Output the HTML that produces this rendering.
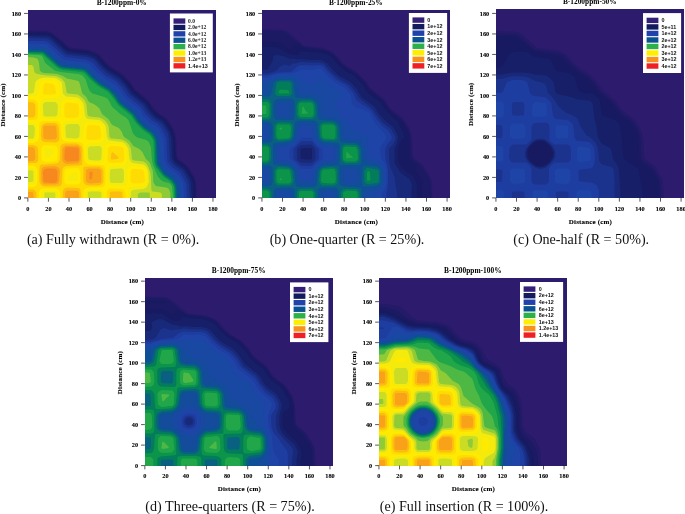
<!DOCTYPE html>
<html><head><meta charset="utf-8"><title>Flux maps</title>
<style>
html,body{margin:0;padding:0;background:#fff;}
body{width:685px;height:514px;overflow:hidden;position:relative;font-family:"Liberation Serif",serif;}
svg{position:absolute;left:0;top:0;}
.tl text{font:bold 6.3px "Liberation Serif",serif;fill:#000;stroke:#000;stroke-width:0.1px;}
.ti{font:bold 7.4px "Liberation Serif",serif;fill:#000;}
.al{font:bold 7px "Liberation Serif",serif;fill:#000;letter-spacing:0.17px;stroke:#000;stroke-width:0.1px;}
.ls{font:bold 5.6px "Liberation Serif",serif;fill:#222;}
.lg{font:bold 5.4px "Liberation Sans",sans-serif;fill:#111;}
.cap{position:absolute;font:14.1px "Liberation Serif",serif;color:#111;white-space:nowrap;transform:translateX(-50%);line-height:16px;}
</style></head><body>
<svg width="685" height="514" viewBox="0 0 685 514">
<defs>
<clipPath id="cpa"><rect x="0.15" y="0.10" width="188" height="188"/></clipPath>
<clipPath id="cpb"><rect x="0.05" y="0.10" width="188" height="188"/></clipPath>
<clipPath id="cpc"><rect x="0.05" y="0.00" width="188" height="189"/></clipPath>
<clipPath id="cpd"><rect x="0.15" y="0.40" width="188" height="188"/></clipPath>
<clipPath id="cpe"><rect x="0.05" y="0.40" width="188" height="188"/></clipPath>
</defs>
<g transform="translate(27.85 9.90)">
<g clip-path="url(#cpa)">
<rect x="-3" y="-3" width="194.30" height="194.00" fill="#2d1b6e"/>
<path fill="#241b68" d="M-2 190l171 0 -0.5-17 -1.5-5 -5-9.5 -3.5-3.5 -6-4.5 -2-1.5 -0.5-1.5 -1-2.5 -0.5-16 -1.5-7 -2.5-5 -4-7 -3.5-3 -5.5-3.5 -3.5-3.5 -3-3 -3.5-5.5 -3-3.5 -11-8.5 -4.5-7 -8-8 -2-2 -9-5 -6-5 -6.5-8 -3-2 -8-3 -17.5-2 -1.5-0.5 -1-0.5 -8-7.5 -8.5-6.5 -5-1.5 -21-0.5z"/>
<path fill="#1d1a64" d="M-2 190l170 0 -0.5-17 -0.5-2.5 -1-2.5 -6-10 -2.5-3 -7-4.5 -2-3 -0.5-2.5 -0.5-14.5 -1-5.5 -1.5-5.5 -5-8 -3-3 -7.5-5 -3-3 -1.5-1.5 -5-7.5 -13-11 -5.5-8 -7.5-7.5 -11.5-7.5 -4.5-4 -6.5-7.5 -3-2 -8-3 -19-2.5 -1.5-1 -14.5-12.5 -2.5-2 -4-1 -21-0.5z"/>
<path fill="#171a60" d="M-2 190l169 0 -0.5-17 -1-4 -6.5-10.5 -1.5-2 -8-5.5 -2-3.5 -1-17 -1-5.5 -1.5-5 -5.5-8.5 -2.5-2.5 -7-4.5 -2.5-2.5 -2.5-2.5 -3-5.5 -2.5-2.5 -12-10 -5.5-8 -7.5-7.5 -11.5-7 -5.5-5 -6-7 -2-1.5 -5.5-2.5 -3.5-1.5 -16.5-1.5 -2.5-1 -15-13 -2.5-1.5 -4-1 -21-0.5z"/>
<path fill="#161f68" d="M-2 190l168 0 -0.5-14 -0.5-4 -1-3 -5.5-9.5 -2-2.5 -8-5.5 -1-1 -1.5-3 -0.5-18.5 -1.5-5.5 -1.5-3.5 -5.5-8.5 -1-1.5 -7-4 -4-4 -2.5-2.5 -4-7 -13.5-10.5 -1-1.5 -4.5-6.5 -6.5-7 -1.5-1.5 -9.5-5.5 -5.5-4 -6.5-8 -2.5-2.5 -7-2.5 -17.5-2 -2.5-0.5 -1.5-0.5 -8-8 -8.5-6.5 -5-1 -19.5-0.5z"/>
<path fill="#18297a" d="M-2 190l166 0 -1-17 -1-4 -5.5-9 -2-1.5 -7.5-5.5 -2.5-4 -0.5-2.5 -0.5-16 -0.5-3 -1.5-5.5 -5-8 -2-2.5 -6.5-4 -4.5-4 -2-3 -4.5-6.5 -13.5-10.5 -5.5-8.5 -6.5-7 -11-6.5 -5-4.5 -7-7.5 -2.5-2 -7-2.5 -17.5-2 -2.5-1 -15-13 -2.5-2 -1.5-0.5 -2.5 0 -19.5-0.5z"/>
<path fill="#1c338e" d="M-2 190l164 0 -1-15.5 -1-4 -5.5-9.5 -8-5.5 -2-2.5 -2-2.5 -0.5-3 -1-18.5 -1-5.5 -5.5-9 -2-1.5 -7.5-5 -3-3.5 -1.5-1 -5-8 -13.5-11 -5.5-8 -6.5-6.5 -10.5-6.5 -6.5-6 -5.5-6.5 -1.5-1.5 -3-1 -4-1.5 -18.5-2 -3-1 -14.5-13.5 -3-1.5 -2.5-0.5 -19.5-0.5z"/>
<path fill="#1e3da0" d="M-2 190l161 0 -0.5-15.5 -1-2.5 -4.5-8 -1-1.5 -8-5.5 -3-4 -1.5-2.5 -1-21.5 -2-5.5 -4-6.5 -2-2.5 -7-4.5 -5.5-5.5 -5-7.5 -13.5-11 -5.5-8 -5-5.5 -1.5-1.5 -9.5-5 -6.5-6 -5.5-6.5 -3-2 -5-2 -20.5-2.5 -2-1.5 -14-12.5 -2.5-1.5 -3-0.5 -18 0z"/>
<path fill="#1e44a7" d="M-2 190l158.5 0 -1-15.5 0-1.5 -1.5-2.5 -3.5-5.5 -9-6.5 -3-4 -1.5-3 -0.5-2.5 -0.5-14.5 -0.5-5.5 -1.5-4 -3-5.5 -2-2.5 -7-4 -5-5.5 -1.5-1.5 -3-5.5 -2-2 -12.5-10 -1-1 -4.5-7 -5-5.5 -3-2 -5.5-3 -3.5-3 -6.5-5 -6-7 -2.5-1.5 -5.5-1.5 -18.5-2 -2.5-1.5 -14-13 -2.5-1.5 -19.5-0.5z"/>
<path fill="#1848a1" d="M-2 190l156.5 0 -1-14 -0.5-3 -4-6.5 -9-6.5 -5-7 -0.5-2.5 -1-20 -1-4.5 -3.5-5.5 -1-1.5 -8.5-5.5 -5-6 -4-6 -1.5-1.5 -12.5-10 -1-1.5 -4.5-6.5 -5-5.5 -1.5-1.5 -8-4.5 -2.5-2 -6.5-5.5 -5.5-6.5 -1.5-1 -4-1.5 -19-2 -2.5-0.5 -17.5-15 -2.5-0.5 -17-0.5z"/>
<path fill="#144c9b" d="M-2 190l154.5 0 -0.5-14 -1-3 -3.5-5 -9-7 -5.5-8 -0.5-2.5 -1-20 -0.5-3 -3-6 -1.5-1.5 -7-4.5 -5-5 -2-1.5 -3-5.5 -2-2.5 -12.5-9.5 -1-1.5 -4-6.5 -5.5-5.5 -2.5-2 -8-5 -7.5-6.5 -5-5.5 -2.5-2 -4-1 -20-2.5 -2-1 -14-13 -3-1.5 -18-0.5z"/>
<path fill="#0e5095" d="M-2 190l153 0 -0.5-12.5 -0.5-3 -3-5.5 -1.5-1.5 -7.5-5 -6-8.5 -1-2.5 -1-21 -1-3.5 -2.5-4.5 -1.5-1.5 -6.5-4.5 -6.5-6.5 -4.5-6.5 -1-1.5 -13.5-10.5 -5-8 -4.5-5 -11-6.5 -7-6 -6-7 -1.5-1 -3-0.5 -18.5-2.5 -3-0.5 -1.5-1 -8.5-8 -7.5-6 -2.5-0.5 -15.5 0z"/>
<path fill="#096080" d="M-2 190l151.5 0 -0.5-12.5 -0.5-3 -2.5-4 -2-2 -7-4.5 -6.5-9.5 -0.5-3 -1-21 -1-3 -2.5-4 -2-2 -5.5-3.5 -6.5-6 -1.5-2 -4-6.5 -13.5-11 -5-8 -4-4 -3-2.5 -5.5-3 -3.5-2.5 -7-6 -5.5-6 -1-1 -4-1 -19-2 -1.5-0.5 -2.5-1.5 -13.5-12.5 -2.5-1.5 -17-0.5z"/>
<path fill="#037c5c" d="M-2 190l150.5 0 -0.5-12.5 -1-3 -2.5-4 -8.5-6.5 -5-7 -1.5-2.5 -0.5-3 -1-20 -0.5-2.5 -2.5-4.5 -1.5-1.5 -6.5-4.5 -6-5.5 -2-3 -4-6 -13.5-11 -5.5-8 -4-4.5 -10.5-6.5 -8-7 -4.5-5 -2.5-2 -2.5-0.5 -19-2 -2.5-1 -2.5-1.5 -13.5-12 -1.5-1 -17-0.5z"/>
<path fill="#0b944a" d="M-2 190l149.5 0 -0.5-12.5 -1-3 -3-4 -6-4 -2.5-2.5 -5-7 -1.5-2.5 -0.5-3 -0.5-20 -1-2.5 -1-2 -2.5-3.5 -6-4 -6-6 -2-2 -4.5-7 -13-10.5 -5.5-8 -3.5-4 -1.5-1.5 -9.5-5.5 -7.5-6.5 -5.5-6 -1.5-1 -2.5-1 -19-2 -2.5-0.5 -3-2 -8.5-7.5 -6-5.5 -3-0.5 -14 0z"/>
<path fill="#21a64a" d="M-2 190l148.5 0 -0.5-12.5 -1-3 -2.5-3 -6.5-4.5 -2-2 -6-8 -1-2.5 -0.5-3 -1-20 -0.5-2 -1.5-2.5 -1.5-2 -6.5-4.5 -6.5-6.5 -2-2.5 -3.5-5.5 -13.5-11 -1.5-2.5 -4-5.5 -3-3.5 -2-2 -9.5-5.5 -8-7 -5.5-6 -3-1 -18.5-2 -4-1.5 -3-2 -12-11 -1-1 -1.5-0.5 -15.5-0.5z"/>
<path fill="#4db944" d="M-2 190l147.5 0 -0.5-6 -1-8 -1.5-2 -1.5-1 -4.5-1 -3.5-2 -3-3.5 -2-4.5 -3-7.5 -1-5.5 -1-12 -1-2.5 -1-2.5 -2.5-2 -9-2.5 -2-1.5 -1-1 -1.5-2 -3-9 -1.5-4 -2.5-2.5 -5-3 -8.5-7.5 -1-1.5 -2-4 -2-3 -3-1.5 -12-3.5 -1.5-1.5 -1-1 -1.5-3 -2.5-8 -2-3 -2-2 -4-1 -17.5-2 -5.5-1.5 -2-1.5 -7.5-6 -1-2 -1-2.5 -0.5-1.5 -1.5-1.5 -4-0.5 -11.5-0.5z"/>
<path fill="#8fcb36" d="M-2 190l144.5 0 0-7.5 -1-2.5 -1-1.5 -2-1 -10.5-1.5 -1.5-2 -1-2 -0.5-11 -1-2.5 -2-5.5 -1-1.5 -3-2.5 -2.5-5 -1-2 -2.5-2.5 -1.5-1 -4-2 -1.5-1 -1.5-2.5 -2-2.5 -4.5-3 -1.5-1.5 -1.5-4 -2.5-3.5 -2.5-1.5 -4.5-2 -1-1 -3-5 -2.5-2 -3.5-2.5 -3-6 -2-2 -1.5-1 -2-1.5 -4-1.5 -1.5-1.5 -2.5-4.5 -3.5-3 -0.5-1.5 -2-8 -0.5-1.5 -1-1.5 -2-0.5 -9.5-2 -4-2.5 -5.5-2 -4-0.5 -9.5-0.5 -2.5-1 -1.5-1.5 -1-8.5 -1-2.5 -1-1 -3.5-1 -7.5-0.5z"/>
<path fill="#cadc23" d="M-2 190l112 0 0-6 2.5-1.5 4.5 0 4.5 0 0.5 1.5 0 6 12 0 0-6 -1.5-1.5 -7.5-1 -0.5 0 -1-1.5 -0.5-13.5 -0.5-4 -2-5.5 -2-3.5 -1.5-1 -1.5-1 -9-1 -1.5-0.5 -1-1 0-1.5 -1-9 -2-4 -3-3 -4-2 -9.5-1 -1 0 -1.5-1 -0.5-1.5 -0.5-8 -0.5-2.5 -1.5-2.5 -2.5-3 -2.5-1.5 -2.5-1 -9.5-1 -1.5-0.5 -1-1.5 0-1 -1-9.5 -2-4 -2.5-2.5 -4-3 -9.5-1 -1.5-0.5 -2-10.5 -2-2.5 -1.5-1.5 -4-2 -2.5-0.5 -12-1 -5.5-1 -2-1 -1-1 -1-5.5 -1.5-1.5 -6 0z"/>
<path fill="#f4ea0b" d="M-2 190l18.5 0 0-6 0.5-1.5 2 0 8 0 0.5 1.5 0 6 32.5 0 0-6 0-1.5 0.5-0.5 1.5-0.5 8 0 1.5 0 2 1 0 7.5 29.5 0 0-7.5 0.5-1.5 1.5-1 10.5-1 3-1.5 1-1.5 1.5-4 -0.5-9.5 -0.5-2.5 -1.5-3 -1.5-1.5 -1.5-1 -10.5-1.5 -2-1.5 -1.5-2.5 -1-10.5 -2-3 -1.5-2 -3-1.5 -12-1.5 -2-1.5 -1-3 -1-9 -0.5-1.5 -2-2.5 -3-2.5 -1-0.5 -11-1 -1.5-0.5 -1-1 -1-3 -1-9 -1-3 -2.5-3 -2.5-2 -11-1 -1.5-0.5 -1-1 -1.5-1.5 -1-11 -1.5-1.5 -3-2 -2.5-1 -9.5-0.5 -4 0.5 -2.5 1 -1.5 1 -1.5 1 -0.5 1.5 -1.5 9.5 -0.5 1 -1.5 0.5 -6 0 0 31.5 7.5 0 1 2 0.5 1 -0.5 8 -0.5 1.5 -0.5 1 -1.5 0 -6 0 0 32 6 0 1.5 0.5 0 8 0 2 -1.5 1 -6 0zM17.5 106.5l-1.5-0.5 -0.5-1.5 0-1 -0.5-8 0.5-1.5 0.5-1 1.5-1 1.5 0 8 0 1 0.5 1.5 1.5 0.5 1.5 -0.5 9 -1 1.5 -1.5 0.5zM39 128l-0.5-0.5 -0.5-1.5 0-1 -0.5-8 0.5-1.5 1-1 2.5-0.5 8.5 0 1 1 1 2 0 1 -0.5 8 -0.5 1.5 -1 0.5 -1.5 0.5zM67.5 150.5l-5.5-0.5 -1.5-1 -0.5-10.5 0.5-1 1.5-1 9.5-0.5 1 0.5 1.5 2 -0.5 10.5 -1 1 -1 0.5zM83.5 173l-1-1 -0.5-1.5 0-9.5 0.5-1 1-1 1 0 8.5-0.5 1 0 1.5 1 0.5 1.5 0 1.5 0 8 -0.5 1.5 -1.5 1 -1 0z"/>
<path fill="#ffea00" d="M-2 190l15.5 0 0-7.5 1-1 1.5-1 3-0.5 8 0.5 2 1 1 1 0.5 7.5 27 0 0-7.5 1.5-2 1.5-1 1.5 0 8 0 2.5 0 1.5 0.5 1.5 1.5 0.5 1 0.5 7.5 23.5 0 0.5-8.5 0.5-3 1-1 1.5-0.5 12-1 1.5-1 1.5-2 0.5-2.5 0-5.5 -0.5-4 -1.5-2.5 -1.5-1.5 -1 0 -9.5-1 -4 0.5 -1 0.5 -0.5 1.5 0 13.5 -0.5 1 -1 2 -2.5 1 -4 0 -8-0.5 -2-1 -1-1.5 -0.5-2.5 0-9.5 0.5-2.5 1.5-2 1.5-0.5 12-0.5 1.5-0.5 1-0.5 0.5-1.5 0.5-4 -1-10.5 -2.5-3 -1.5-1 -0.5 0 -10-1 -4 0.5 -1.5 1 -1 2 -0.5 12 -1 2 -1.5 1 -2.5 0.5 -9.5 0 -2-1 -1-1 -0.5-1.5 -0.5-10.5 0.5-3 1-1 1-1 12-1 1.5 0 1.5-1 0.5-2.5 0-3 -0.5-8 0-1 -1-1.5 -2-2 -1-0.5 -9.5-1 -4 0.5 -1.5 1.5 -0.5 1.5 -1 10.5 -0.5 1.5 -1 1.5 -2.5 1 -2.5 0 -9.5 0 -2-1 -1-1.5 -0.5-2.5 -0.5-8 0.5-3 1-1 1-1.5 1.5-0.5 11-0.5 2.5-1 0.5-0.5 0.5-1.5 0.5-3 -0.5-9 -0.5-1.5 -2-2.5 -1-1 -11-1 -2.5 0.5 -1.5 0.5 -1.5 2 -0.5 12 -0.5 1.5 -1 1.5 -2 1 -2.5 0.5 -9.5-0.5 -2.5-0.5 -1.5-1.5 -1-2 0-10.5 0.5-2.5 1-1.5 1-1 1-0.5 11-0.5 2.5-0.5 1.5-1.5 1-2.5 -1-9.5 -0.5-1.5 -1-1 -1.5-0.5 -1-0.5 -11-0.5 -2.5 1 -1.5 1.5 -1.5 11 -1 1.5 -2 1 -2 0.5 -7.5 0 0 26 7.5 0 1 0.5 1.5 1 0.5 1.5 0.5 2.5 0 8 -0.5 1.5 -0.5 1.5 -1.5 1 -1 0.5 -7.5 0 0 27.5 7.5 0 1 1 1 2 0.5 8 -0.5 3 -1 1.5 -1 1 -7.5 0zM17.5 148l-0.5-8.5 0.5-1 2.5 0 5.5 1 0.5 0 -0.5 3.5 -4.5 4.5 -2 0.5zM40.5 170.5l-0.5 0 0-1.5 0.5-2.5 5-4 3-0.5 0.5 0.5 0.5 6.5 0 1.5 -1 0.5z"/>
<path fill="#fedb03" d="M-2 190l13 0 0-7.5 1-2.5 1.5-1 4-0.5 9.5 0 2.5 0.5 1.5 1 1 1.5 0.5 1 0 7.5 23 0 0-7.5 0.5-2.5 1.5-1.5 3-1 13.5-0.5 1.5-0.5 1-1 1-2.5 0-2.5 0-9.5 -0.5-4 -1-1 -2-1 -12-0.5 -1.5-0.5 -2-1 -1-1.5 -1-2.5 -0.5-10.5 -0.5-3 -0.5-1.5 -1-1 -1.5-0.5 -2.5-0.5 -11-0.5 -2.5-0.5 -1.5-1 -1.5-2.5 -0.5-12 -0.5-1.5 -1.5-2 -1.5-0.5 -2.5-0.5 -11 0 -2.5 0.5 -1.5 1 -0.5 1.5 -0.5 13.5 -1 3 -0.5 1 -1.5 0.5 -2.5 1 -7.5 0 0 22.5 7.5 0 1 0.5 1.5 1 1 1.5 0.5 2.5 0 9.5 -0.5 4 -1 1.5 -2.5 1 -7.5 0zM17.5 152l-1.5-0.5 -1-0.5 -1.5-2 0-9.5 0-1 0.5-1.5 1.5-1.5 2-0.5 9.5 0.5 1 0.5 1.5 1.5 0.5 2 -0.5 9.5 -0.5 1.5 -2 1zM40.5 174.5l-1.5 0 -1.5-0.5 -1-2 0-9.5 0.5-2.5 2-1.5 1.5 0 8-0.5 1.5 0 1 1 1 1 0.5 2.5 0 8 0 1.5 -0.5 1 -1 1 -1 0.5zM79 190l18.5 0 0-7.5 -0.5-1 -1-1.5 -2-1 -10.5-0.5 -3 0.5 -1 2 -0.5 1.5zM104.5 173l2 0.5 8-0.5 1-0.5 1-0.5 0.5-1.5 -0.5-5.5 0-2.5 -1-2 -1-1 -8-0.5 -1.5 0 -1.5 1 -0.5 1 0 1.5 -0.5 8 0.5 1.5zM80.5 151.5l1.5 1 1.5 0.5 9.5-0.5 2-1 1-1 0.5-1.5 -0.5-9.5 -0.5-1 -1.5-1.5 -1-0.5 -9.5-0.5 -2 1 -1.5 1.5 0 2.5 -0.5 8 0.5 1.5zM59 129l1.5 1 1.5 0 9.5-0.5 1-1 0.5-1 0.5-1.5 -1-9 -1-1 -1.5-0.5 -8-0.5 -2 0.5 -1 1.5 0 1 -0.5 8 0 1.5zM-2 109l0 1 7.5 0 2.5-0.5 1.5-1 0.5-4 0-10.5 -1.5-2.5 -2-1.5 -1-0.5 -7.5 0zM38 107.5l2.5 0.5 8-0.5 1.5-0.5 0.5-1 0.5-1.5 0-8 -0.5-1 -0.5-2 -1.5 0 -9.5-1 -2 1.5 -0.5 2.5 0 8 0 1.5zM17 84.5l8.5 0 1.5-0.5 1-0.5 0-1.5 -1-6 -1.5-1.5 -1-0.5 -5.5-1 -1.5 0 -1 1 -0.5 1 -1 8.5 1 1z"/>
<path fill="#fcbe0e" d="M-2 190l10.5 0 0-7.5 -0.5-1 -1.5-1.5 -1-0.5 -7.5 0zM35 190l18 0 0-7.5 -0.5-2.5 -1-1.5 -1.5-0.5 -11-0.5 -2.5 1 -1 1.5 -0.5 1.5zM82 190l13 0 -0.5-7.5 -0.5-0.5 -1-0.5 -9.5 0 -1.5 1zM14.5 176l3 0.5 9.5 0 2.5 0 3-0.5 1-1.5 0.5-1.5 0.5-13 0.5-1.5 1-1.5 3-1 12-0.5 3-0.5 0.5-2 0-2.5 0-11 -0.5-2.5 -1.5-1.5 -1.5-1 -2.5-1 -9.5 0 -2.5 0 -2.5 1 -1 1 -0.5 1.5 -0.5 12 -1 3 -1 1 -2 0.5 -13 1 -1.5 0 -1.5 1.5 -0.5 4 0 12 1.5 2.5zM57.5 174.5l3 1 9.5 0 2.5-0.5 1.5-1 1.5-2 0-1.5 0-9.5 0-1 -1-1.5 -2-1.5 -1-0.5 -11 0 -2.5 0 -2 0.5 -0.5 1.5 0 1.5 0 10.5 0.5 2.5zM-2 153l8.5 0 1.5 0 2-1.5 0.5-2.5 -0.5-10.5 -0.5-1.5 -1.5-1 -2.5-1 -7.5 0zM83 149l1.5 0.5 5-0.5 1.5-1.5 -6.5-5.5 -1 1.5zM15.5 131.5l2 0.5 9.5 0.5 1 0 2-1 1-1 0.5-3 -0.5-9.5 -0.5-2.5 -1.5-1.5 -2-1 -8 0 -3 0.5 -1 1 -1 1 -0.5 1.5 -0.5 9 0.5 3 0.5 1.5zM-2 106l0 1.5 7.5 0 1.5-1.5 0.5-1.5 0-1 0-8 -0.5-1.5 -1.5-1.5 -7.5-0.5z"/>
<path fill="#f9a119" d="M-2 190l8 0 -0.5-7.5 -1.5-0.5 -6 0zM37 190l14 0 0-7.5 -1-1.5 -1.5-0.5 -9.5 0 -1.5 2zM17.5 174.5l9.5 0 2.5-0.5 1.5-1.5 0.5-2 0.5-9.5 -0.5-2.5 -1.5-1.5 -2-0.5 -1-0.5 -9.5 0.5 -2 0.5 -1.5 1.5 -0.5 2.5 0 9.5 0.5 1.5 0.5 1 1.5 1.5zM60.5 173l1.5 0.5 8.5-0.5 2-0.5 0.5-0.5 0.5-1.5 0-8 0-1.5 -1-1.5 -1-0.5 -1.5-0.5 -8 0 -1.5 0 -2 1.5 -0.5 1 0 1.5 0 8 0.5 1.5zM36.5 153l2.5 1 9.5-0.5 1.5 0 1-1 1.5-2 0.5-3 -0.5-8 0-1 -1.5-2 -1-1 -1.5 0 -9.5 0 -1.5 0 -2 1.5 -0.5 1.5 -0.5 1 0 9.5 0.5 2.5zM-2 150.5l0 0.5 6 0 1.5 0 1-1 1-1 0-1.5 -0.5-8 -0.5-1.5 -1-0.5 -7.5-0.5zM16.5 129l2.5 0.5 6.5 0 1.5 0 1-1 1-1 0-1.5 -0.5-8 -0.5-1.5 -1-1 -1.5 0 -8 0 -1.5 0.5 -0.5 1 0 1 0 8 0 1.5z"/>
<path fill="#f7881f" d="M16 172l1.5 0.5 8 0.5 1.5 0 1.5-1 1-1.5 0-6.5 0-3 -0.5-1 -1-1 -1-0.5 -8 0 -1.5 0.5 -1.5 0.5 -0.5 1.5 -0.5 1.5 0.5 8zM61.5 169l0.5 0.5 1 0 1-0.5 1-6.5 -2-1 -1 0 -0.5 1zM37.5 150.5l1.5 1 1.5 0 9.5-0.5 1-2 0-1.5 0-8 -0.5-1 -0.5-1 -1.5 0 -8-0.5 -1.5 0 -1.5 1 -0.5 1.5 -0.5 8 0 1.5z"/>
</g>
<path d="M0.00 188.00 v3.8M0 188.00 h-3.8M20.57 188.00 v3.8M0 167.51 h-3.8M41.14 188.00 v3.8M0 147.01 h-3.8M61.71 188.00 v3.8M0 126.52 h-3.8M82.28 188.00 v3.8M0 106.02 h-3.8M102.85 188.00 v3.8M0 85.53 h-3.8M123.42 188.00 v3.8M0 65.04 h-3.8M143.99 188.00 v3.8M0 44.54 h-3.8M164.56 188.00 v3.8M0 24.05 h-3.8M185.13 188.00 v3.8M0 3.55 h-3.8" stroke="#111" stroke-width="0.7" fill="none"/>
<g class="tl">
<text x="0.00" y="200.80" text-anchor="middle">0</text>
<text x="-6.7" y="190.10" text-anchor="end">0</text>
<text x="20.57" y="200.80" text-anchor="middle">20</text>
<text x="-6.7" y="169.61" text-anchor="end">20</text>
<text x="41.14" y="200.80" text-anchor="middle">40</text>
<text x="-6.7" y="149.11" text-anchor="end">40</text>
<text x="61.71" y="200.80" text-anchor="middle">60</text>
<text x="-6.7" y="128.62" text-anchor="end">60</text>
<text x="82.28" y="200.80" text-anchor="middle">80</text>
<text x="-6.7" y="108.12" text-anchor="end">80</text>
<text x="102.85" y="200.80" text-anchor="middle">100</text>
<text x="-6.7" y="87.63" text-anchor="end">100</text>
<text x="123.42" y="200.80" text-anchor="middle">120</text>
<text x="-6.7" y="67.14" text-anchor="end">120</text>
<text x="143.99" y="200.80" text-anchor="middle">140</text>
<text x="-6.7" y="46.64" text-anchor="end">140</text>
<text x="164.56" y="200.80" text-anchor="middle">160</text>
<text x="-6.7" y="26.15" text-anchor="end">160</text>
<text x="185.13" y="200.80" text-anchor="middle">180</text>
<text x="-6.7" y="5.65" text-anchor="end">180</text>
</g>
<text class="ti" x="93.85" y="-4.8" text-anchor="middle">B-1200ppm-0%</text>
<text class="al" x="94.55" y="213.70" text-anchor="middle">Distance (cm)</text>
<text class="al" transform="translate(-22.6 95.00) rotate(-90)" text-anchor="middle">Distance (cm)</text>
<rect x="142.05" y="3.60" width="42.90" height="58.90" fill="#fff"/>
<rect x="145.65" y="8.50" width="11.8" height="5.30" fill="#342078"/>
<text class="ls" x="160.25" y="12.90">0.0</text>
<rect x="145.65" y="14.90" width="11.8" height="5.30" fill="#141a5e"/>
<text class="ls" x="160.25" y="19.30">2.0e+12</text>
<rect x="145.65" y="21.30" width="11.8" height="5.30" fill="#2042aa"/>
<text class="ls" x="160.25" y="25.70">4.0e+12</text>
<rect x="145.65" y="27.70" width="11.8" height="5.30" fill="#0c5292"/>
<text class="ls" x="160.25" y="32.10">6.0e+12</text>
<rect x="145.65" y="34.10" width="11.8" height="5.30" fill="#2cb04a"/>
<text class="ls" x="160.25" y="38.50">8.0e+12</text>
<rect x="145.65" y="40.50" width="11.8" height="5.30" fill="#ffee00"/>
<text class="ls" x="160.25" y="44.90">1.0e+13</text>
<rect x="145.65" y="46.90" width="11.8" height="5.30" fill="#f8921e"/>
<text class="ls" x="160.25" y="51.30">1.2e+13</text>
<rect x="145.65" y="53.30" width="11.8" height="5.30" fill="#ee2024"/>
<text class="lg" x="160.25" y="57.70">1.4e+13</text>
</g>
<g transform="translate(261.95 9.90)">
<g clip-path="url(#cpb)">
<rect x="-3" y="-3" width="194.30" height="194.00" fill="#2d1b6e"/>
<path fill="#241b68" d="M-2 190l172.5 0 -0.5-18 -1.5-4 -7-12 -3-3 -5-3.5 -2-2 -0.5-2.5 -1-17.5 -1.5-6.5 -1-3 -6-9 -3-3 -6-4 -3.5-3 -2.5-3 -3.5-6 -1.5-1.5 -12.5-10 -1.5-1.5 -3.5-6 -8.5-8.5 -10-6 -3.5-2.5 -2.5-2.5 -5-6 -3-3 -3-1.5 -6.5-3 -8-1 -8.5-0.5 -4-1 -14.5-13 -3-1.5 -2.5-1 -2.5-0.5 -21-0.5z"/>
<path fill="#1d1a64" d="M-2 190l171.5 0 -1-18 -0.5-2 -1-3 -7-10.5 -2-2 -6-4.5 -2-2.5 -0.5-2.5 -0.5-14.5 -0.5-5.5 -2-5.5 -5.5-9 -2.5-3 -8-5.5 -2.5-2.5 -6.5-9.5 -13.5-11 -5.5-8 -7-7 -3-2 -6.5-4 -2.5-1.5 -4.5-4 -7-8 -2-1.5 -2.5-1.5 -7.5-2.5 -15.5-2 -3-0.5 -5-4.5 -8.5-5.5 -3.5-3.5 -3-1.5 -2.5-0.5 -21-0.5z"/>
<path fill="#171a60" d="M-2 190l161.5 0 0-7.5 0.5-5 0-2 1.5-2 0.5-0.5 -0.5 0 -0.5-1 -1-1 -5.5-10 -0.5-1 0.5-4 -1-1.5 -3-2.5 -1.5-1.5 -1.5-3 -0.5-8 0.5-9 0-3 -1.5-5.5 -0.5-2 -5.5-9 -3-3 -7-4.5 -2.5-3 -2.5-2.5 -4-6.5 -2.5-2.5 -11-8.5 -1-1.5 -4.5-6.5 -7.5-8 -11.5-7 -5-4 -5.5-6.5 -2.5-2.5 -2.5-1.5 -5.5-2.5 -3-0.5 -17.5-2 -4-2.5 -4-2 -1.5 0 -3 5.5 -1 0.5 -1-0.5 -8-6.5 -13.5-1 -7.5 0z"/>
<path fill="#161f68" d="M-2 190l157 0 0-15.5 -1-2.5 -4-7 -9-6 -2.5-3.5 -2-4 -0.5-4 0-9 2.5-7 4-4 0-1.5 -1.5-4 -3-5 -2-5 -2-2 -5-4 -5-5.5 -4.5-6.5 -1-1.5 -3-2.5 -4-3 -6.5-5 -1-1.5 -3-5.5 -7.5-8 -3.5-2.5 -1-0.5 -7-4 -5.5-5 -6.5-7.5 -2.5-2 -7-2.5 -10.5-1 -11-0.5 -1.5 1 -1 2 -1.5 0.5 -8-1.5 -11-6 -10.5-1 -7.5 0zM44.5 145l-1-1.5 1-0.5 0.5 0.5z"/>
<path fill="#18297a" d="M-2 190l151.5 0 0-7.5 0.5-6.5 -0.5-3 -2-4 -1.5-1 -7.5-5.5 -6-9.5 0-2.5 0-11 0-1 2-4 1-4 0.5-3 -0.5-2.5 -3.5-7 -1.5-1.5 -8-6.5 -5-5.5 -4-6.5 -1-1.5 -13-9.5 -4.5-8 -6-6.5 -3-2 -8.5-4.5 -6-5.5 -6-7 -2.5-1.5 -2.5-1.5 -2.5-0.5 -9.5 0 -9.5-1 -2.5 0.5 -5.5-1 -3 0.5 -1-0.5 -5.5-2.5 -6.5-1 -3 0.5 -1 1.5 0 2.5 -0.5 1.5 -4 7 -1 1.5 -7.5 0.5zM39 149l-0.5-1.5 0-4 0-4 0.5-1 6.5-0.5 3 0 1.5 0.5 0 5 0 5.5 -1.5 0.5 -4 0z"/>
<path fill="#1c338e" d="M-2 190l137 0 0-7.5 -2-10.5 0-4 -5-12 -1-7 0-9.5 0-1 3.5-3.5 2.5-4.5 0.5-3 -1-2.5 -3.5-6 -8-6 -4.5-5.5 -5.5-8 -2-2 -11.5-9 -5-8 -5-5.5 -3-2 -5.5-3 -3.5-2.5 -6.5-5.5 -6-7 -1-1 -3-1 -2.5-0.5 -6.5 0 -11-0.5 -5.5 1.5 -2.5 0 -3 2 -1 0.5 -4-1.5 -1.5 0.5 -4 2 -3 3.5 -3.5 1.5 -5.5 1.5 -7.5 0zM39 152.5l-3-2 -1-1.5 0-8 0-2.5 4-3.5 9.5-0.5 1.5 0.5 3 3.5 0.5 1 0 9.5 -3.5 3.5 -3 0.5z"/>
<path fill="#1e3da0" d="M-2 190l126.5 0 0-7.5 1-4 0.5-5.5 0-12 -0.5-5 -2-7 -0.5-9.5 0.5-1 1.5-3.5 1.5-2 2.5-3 1-2.5 -0.5-1.5 -3-5 -6.5-5.5 -5.5-6.5 -4.5-7 -1-1.5 -3-2.5 -6.5-4 -4-3 -1.5-1.5 -2.5-6 -1.5-2 -4-4.5 -2-2 -7.5-4 -2.5-1.5 -6.5-6 -5.5-6.5 -1.5-1 -4-1 -6.5 0.5 -11-0.5 -3.5 1.5 -4.5 4 -2.5 1.5 -12.5 0.5 -10.5 3 -7.5 0zM40.5 156l-1.5-0.5 -7.5-6.5 0-1.5 0-6.5 0-1.5 0.5-1 3-3 4-4 1.5-0.5 8 0 1.5 0.5 3.5 4 3 3 0.5 1 0 1.5 0 6.5 0 1.5 -7 6.5 -1.5 0.5z"/>
<path fill="#1e44a7" d="M-2 190l122 0 0-7.5 3-4 1.5-5.5 0-12 -0.5-2.5 -1-4 -1.5-3 -2.5-2.5 -1-10.5 2-4 3-4 1-1.5 0.5-1.5 -1-2.5 -1-2 -6.5-6 -5-7 -2.5-5.5 -2-2.5 -3-1.5 -2.5-1.5 -7-1.5 -2.5-2 -1-1.5 -0.5-1 -0.5-4.5 -0.5-3 -1.5-2 -3.5-4.5 -2-1.5 -9.5-5.5 -6.5-5.5 -5.5-6.5 -1.5-1 -2.5-0.5 -6.5 1.5 -11-0.5 -4 2.5 -3 1 -4 0.5 -12 0.5 -5 1.5 -5.5 2.5 -7.5 0zM39 159l-5.5-6 -5.5-4 -0.5-1.5 0-8 1-1 4-3 2.5-2.5 4-5 1.5-0.5 8 0 1.5 0.5 2 3.5 2.5 3 5.5 4 0.5 1 0.5 8 -0.5 1.5 -6.5 5 -4 4.5 -1.5 0.5 -8 0z"/>
<path fill="#1848a1" d="M-2 190l115.5 0 0-6 1.5-1.5 2-1 1.5-1 2.5-3.5 1.5-4 0.5-2.5 0-9.5 -0.5-2.5 -2-4 -1-1.5 -2.5-2 -1.5-1 -5.5-1 -2-1.5 -1.5-4 -0.5-2.5 -0.5-2.5 0-9.5 -0.5-2.5 -1.5-1.5 -2.5-1.5 -7-2.5 -4-4 -5.5-3.5 -1-2 -2.5-4 -3-3 -1-1 -3.5-9.5 0.5-2 1.5-2 2.5-2.5 2.5-1 0.5-0.5 -0.5-1.5 -1-1.5 -8.5-5 -13-11 -1.5 0 -2.5 5 -2.5 2 -1.5 1 -9.5-3.5 -1.5-1.5 -1.5-2.5 -1-1 -2.5-0.5 -3-0.5 -4-0.5 -11 0.5 -5 2 -5.5 2.5 -7.5 0zM40.5 169.5l-1.5-1.5 -1-5.5 -0.5-2.5 -2-3 -3-2.5 -4.5-3 -1-0.5 -8-1 -2.5-1 0-1.5 0-8 1-1.5 9.5-1 1-0.5 5-3.5 2-2.5 2-3 1.5-9.5 0.5-1.5 9.5 0 1.5 0.5 1.5 10.5 1.5 3 2.5 2.5 2.5 2 2.5 1.5 11 2 0.5 1 0 8 -0.5 1.5 0 0.5 -11 1.5 -2.5 2 -3 2 -4 5 -0.5 1 -0.5 6 -1.5 2.5z"/>
<path fill="#144c9b" d="M-2 190l18 0 0-7.5 1.5-0.5 8 0 1.5 0 1 0.5 0.5 7.5 31.5 0 0.5-7.5 1.5-0.5 1 0 7 0 1.5 0 0.5 0.5 0.5 1.5 0 6 31.5 0 0-6 0-1.5 1-1 1.5-0.5 9-1 2-1.5 2-2.5 1.5-3 0.5-2.5 0-8 0-2.5 -2.5-4 -2.5-3 -2-0.5 -8-1 -1.5-0.5 -0.5-0.5 -1-1.5 -0.5-10.5 -0.5-3 -1-2.5 -2-2 -4-1.5 -11-1 -1-0.5 -1-0.5 -0.5-1.5 -1-10.5 -1.5-4 -1.5-2 -2.5-1.5 -3-1 -9.5-1 -1-0.5 -1.5-0.5 -1-12.5 -0.5-2.5 -1.5-2.5 -2.5-1.5 -2.5-1 -12-0.5 -1.5-0.5 -1-0.5 -1.5-11 -1.5-2.5 -2.5-2 -3-1 -2.5 0 -11 0 -5 2 -7 4 -6 0 0 43 6 0 1.5 0 0.5 1 0 1 0 7 0 1 0 1.5 -0.5 0.5 -7.5 0 0 31.5 6 0 1.5 0.5 0.5 1 0 1.5 0 8 -0.5 1.5 -7.5 0zM37.5 172l-0.5-1.5 -1-9.5 -1-1.5 -2.5-3 -3-2.5 -2.5-1.5 -9.5-1 -1.5 0 -1-1 -0.5-1.5 0-1.5 0-9 1.5-2 1.5-0.5 9.5-1 1-0.5 4-3 3-4 1.5-10.5 1-2 1.5-0.5 1.5-0.5 9.5 0.5 1 1 1 1.5 1 10.5 3.5 4 4 3.5 11 1 1 1 1.5 1.5 0 10.5 -0.5 1.5 -2 1 -11 1.5 -2.5 2 -2.5 2 -2.5 3 -0.5 1 -1 9.5 -0.5 1.5 -1 1 -9.5 0 -1.5 0zM82 172l-0.5-1.5 0-8 0-1.5 1-1 1-1 1 0 7 0 2.5 0.5 1 0.5 0.5 1 0.5 1.5 -0.5 8 -0.5 1.5 -1 0.5 -2.5 0.5 -8 0zM16 105l0-9.5 1-1.5 2-0.5 6.5 0 2 0.5 1 1.5 -0.5 9 -1 1.5 -1.5 0 -8 0z"/>
<path fill="#0e5095" d="M-2 190l15.5 0 0.5-7.5 1-1.5 1-1 1.5-0.5 8 0 2.5 0.5 2 1.5 0.5 1 0 7.5 27.5 0 0-7.5 0.5-1 2-1.5 2.5-0.5 8.5 0 1 0.5 1.5 1.5 0.5 1 0 7.5 27.5 0 0-7.5 0.5-1 1-1.5 1.5-1 10.5-1.5 1.5-1 1.5-2 1.5-2.5 0-1.5 0-8 -0.5-2.5 -1.5-3 -1-1.5 -1.5-0.5 -10.5-1.5 -1.5-1 -1-1 -1-2.5 -0.5-10.5 -1.5-3.5 -2-2 -3.5-2 -10.5-0.5 -1.5-0.5 -1-1 -1-1.5 0-1.5 -0.5-9 -1-3 -2-2.5 -2.5-2 -2.5-0.5 -9.5-1 -1.5 0 -1.5-1 -1-2.5 -0.5-10.5 -1-2.5 -1.5-1.5 -2.5-2 -2.5-1 -11-0.5 -1.5-0.5 -1-1 -1.5-1.5 -1-11 -1-1.5 -2-1.5 -3-1 -1 0 -11 0 -4 2 -3 2 -2 9.5 -1 1.5 -0.5 0.5 -1.5 0 -6 0 0 29.5 7.5 0 1 1 1 1 1 2.5 0 8 0 1.5 -1 1.5 -2 1.5 -7.5 0 0 27 7.5 0 1 0.5 1.5 2 0.5 2.5 0 8 -0.5 1.5 -1 1 -1.5 1 -7.5 0.5zM39 175l-1.5-0.5 -1-1 -1-1.5 -1.5-11 -0.5-1 -2.5-3 -3-2 -1-0.5 -11-1 -1-1 -1.5-1 -1-2.5 0-10.5 0.5-1.5 1.5-1.5 1.5-1 11-1 1-0.5 3.5-2.5 2-3 1-10.5 0.5-1.5 1.5-2 2.5-1 11 0 1 0.5 1.5 1 1 1.5 1.5 12 3 3.5 2.5 2 1.5 0.5 10.5 1 1.5 1 1 1.5 1 2.5 0 9.5 -1.5 2.5 -1.5 1.5 -12.5 1.5 -4 3.5 -1.5 2 -0.5 1 -1.5 11 -0.5 1 -1.5 1.5 -1 0.5 -1.5 0zM83.5 175l-1.5-0.5 -1.5-1 -0.5-1.5 -0.5-1.5 0-9.5 0.5-1 0.5-1.5 1.5-1 1.5-0.5 8 0 2.5 0 2.5 1.5 1 1.5 0.5 2.5 0 8 -0.5 1.5 -0.5 1 -1.5 1.5 -1.5 0.5zM16 108l-1-1 -1-2.5 0-9 0-1.5 1-1.5 1-1 1.5-0.5 8 0 2.5 0.5 1.5 1 1 1.5 0 1.5 0 9 -1 2.5 -1.5 1 -1 0 -8 0z"/>
<path fill="#096080" d="M-2 190l13.5 0 0.5-8.5 0-1.5 1.5-1.5 2.5-0.5 11-0.5 4 0.5 0.5 0.5 1 1 0 3 0 7.5 23.5 0 0-7.5 0.5-3.5 1.5-1 4-0.5 10.5 0 3 1 1 1.5 0 1.5 0.5 8.5 23 0 -0.5-10 0-1.5 -1.5-1 -16-1 -2.5-0.5 -1.5-1.5 -0.5-2.5 0-16 -1-0.5 -5 0 -9.5 0.5 -1.5 0.5 -2.5 2 -2 2.5 -1 12 -1 3 -3 1 -12 0 -4-0.5 -1-0.5 -0.5-1.5 -1-13.5 -1-1 -2-2.5 -2.5-1.5 -13.5-1 -1.5 0 -0.5-0.5 -0.5-4 0-16 1.5-1.5 14.5-1.5 2.5-1 2-3 0.5-1.5 1-12 0.5-2.5 1.5-0.5 4-0.5 12 0 3.5 1 0.5 1 0.5 1.5 1 12 0 1.5 2.5 3 1.5 1 1.5 0.5 13.5 1 1 0 1 1.5 0 1 0 17.5 0 1.5 0.5 0.5 17.5 0 2.5-0.5 1.5-1.5 0-4 0-9.5 -0.5-1 -1.5-3 -2-1.5 -1.5-1 -13.5-0.5 -1-0.5 -1-0.5 -0.5-2.5 -0.5-12 -1.5-3 -2-2 -2.5-1.5 -12.5-0.5 -1 0 -1.5-1 -0.5-3 -0.5-12 -2-2.5 -2.5-2 -1-0.5 -1.5-0.5 -12-0.5 -3-0.5 -0.5-1.5 -1.5-13.5 -1.5-1.5 -2-1 -2.5 0 -8 0 -3.5 1 -2 1.5 -0.5 1.5 -2 9.5 -0.5 1 -1 1.5 -2.5 0.5 -7.5 0 0 25 8.5 0.5 1.5 0 1.5 1.5 1 3.5 0 10.5 0 3 -0.5 1 -0.5 0.5 -3 0.5 -8.5 0 0 23 8.5 0 3 0.5 1 1 0 4 0 11 -1 3 -1.5 1 -1.5 0 -8.5 0.5zM17.5 110l-2.5 0 -1.5-0.5 -1.5-2 -0.5-3 0-9 1-4 1-1.5 2.5-1 11-0.5 4 0.5 1 1 0.5 1.5 0 13 -0.5 4.5 -1 1 -1.5 0zM101 176l1 0.5 3 0 9.5-1 1-0.5 1.5-1 1.5-2 0-1.5 0-9.5 -1-2.5 -2-1.5 -10.5-1.5 -3 0.5 -1 1 -0.5 3 -0.5 12 0.5 2.5z"/>
<path fill="#037c5c" d="M-2 190l11.5 0 0-7.5 -1-2.5 -2-1 -1-0.5 -7.5 0zM34.5 190l19 0 0-7.5 -0.5-1 -1-1.5 -2-1 -9.5 0 -3 0 -1 1 -1.5 1.5 0 1zM79 190l19 0 -0.5-7.5 -0.5-1 -1-1.5 -2-1 -9.5 0 -2.5 0 -1.5 1 -1 1.5 -0.5 1zM14 174.5l2 1 3 0 8 0 1-0.5 1.5-0.5 1.5-2 0.5-2 -1-9.5 -1-1.5 -1.5-1 -2.5-1 -8-0.5 -1.5 0 -2 1.5 -1 1.5 -0.5 1 0 9.5 0.5 2.5zM59 174.5l1.5 1 1.5 0 8 0 2.5 0 1.5-1 1.5-1.5 0-2.5 0-9.5 0-1 -1-1.5 -2-1 -2.5-0.5 -8 1 -1.5 0 -1.5 1.5 -1 1.5 -1 9.5 1 2.5zM103.5 173l1.5 1 2.5 0 7-1 1 0 1-1 0.5-1.5 0-8 0-1.5 -1.5-1.5 -9-1.5 -1.5 0 -1.5 1 -1 2 0 8 0 3zM-2 153l0 0.5 7.5 0 1-0.5 1.5-1.5 0.5-1 0.5-3 0-9 -1-2 -1.5-1.5 -1-0.5 -7.5 0zM82.5 153l2 0.5 9.5-0.5 1.5-0.5 1.5-1 0.5-2.5 0-9.5 -0.5-1 -0.5-1.5 -2.5-2 -10.5-0.5 -1.5 0.5 -1 0.5 -1 1.5 -0.5 2.5 0 9.5 1 2.5zM15 130.5l2.5 0.5 9.5-1 1-0.5 1.5-1.5 1-2 0.5-9 0-1.5 -1.5-2 -1.5-1 -1 0 -9.5-0.5 -2.5 1 -1.5 1 -1 1.5 0 1.5 0 9 0 1.5 1 1.5zM63.5 130.5l8 0 1 0 1.5-0.5 1.5-1.5 0-2.5 0-9 -1-1.5 -2-2 -1-0.5 -1.5-0.5 -8 0 -2 0.5 -1.5 1 -1 3 0.5 9 0.5 1.5 2 2zM-2 109l0 0.5 7.5 0 2-0.5 1.5-1.5 0.5-3 0-10.5 -1-2.5 -2-2 -1 0 -7.5-0.5zM38.5 109l11.5 0 1-0.5 1.5-1 1-1.5 0.5-1.5 -0.5-9 -0.5-1.5 -2-2.5 -1-0.5 -1.5-0.5 -9.5 0 -2.5 1 -1 1 -1 3 0 9 0.5 1.5 0.5 1.5zM15.5 86l2 0 9.5 0 1-0.5 1.5-1 0.5-1 0-1.5 -0.5-8 -0.5-1.5 -2-1 -1.5 0 -8 0 -2.5 1 -0.5 1.5 -1.5 9.5 0.5 1z"/>
<path fill="#0b944a" d="M-2 190l9.5 0 0-6 0-1.5 -1-1 -1-1 -7.5 0zM37 190l14.5 0 0-7.5 -1.5-1.5 -11 0 -1.5 0.5 -0.5 1zM81 190l15 0 -0.5-7.5 -1.5-1.5 -1 0 -8.5-0.5 -1 0.5 -1 0.5 -1.5 1zM16 173l1.5 0.5 8 0 1.5 0 1-0.5 1-1 0.5-1.5 -1-8 -0.5-2 -1-1 -1.5 0 -8-0.5 -1.5 0.5 -0.5 0.5 -1 1 0 9.5 0.5 1.5zM61 173l9 0.5 1.5 0 1-0.5 1-1 0.5-3 -0.5-8 -1-1.5 -1-0.5 -1.5 0 -8 0.5 -1.5 0.5 -0.5 1 -0.5 1.5 -0.5 8 0.5 1.5zM105 170.5l1.5 0.5 1.5-0.5 0.5-1.5 -0.5-6.5 -1-1.5 -0.5 0 -0.5 0 -1 1.5 0 6.5zM-2 150.5l0 1 6 0 1.5-0.5 1-1 0.5-2.5 0-8 0-1 -1.5-2 -7.5 0zM82 150.5l1.5 1 1 0 8.5 0 1-0.5 1-0.5 1-1.5 0-1.5 -0.5-8 -0.5-1 -1-1.5 -1 0 -8.5-0.5 -1 0 -1.5 1 -0.5 1 -0.5 2.5 0 8zM17 129l8.5-0.5 1.5-0.5 1-0.5 0.5-1.5 0.5-8 0-1 -1-2 -1-0.5 -1.5 0 -8 0 -1.5 0 -1 1 -0.5 1.5 0 1 0 8 0.5 1.5 1 1zM60.5 127.5l1.5 1 8 0.5 1.5 0 1-0.5 1-1 0-1.5 0-8 0-1 -1-1.5 -1-0.5 -1.5-0.5 -8 0 -1.5 0.5 -1 2 0.5 9zM-2 107.5l7.5 0 1.5-1.5 0.5-2.5 0-8 0-1.5 -1-1 -1-1 -7.5 0zM37.5 106l1.5 1 1.5 0 8 0 1.5 0 1-1 0.5-1.5 0.5-1 -0.5-8 -0.5-1.5 -1-1 -1.5-0.5 -8 0 -1.5 0 -1.5 0.5 -0.5 1 -0.5 2.5 0 8zM17 83.5l2 0 8 0 0-1.5 0-1 -1.5-1 -6.5-0.5 -1.5 0.5 -1 2z"/>
<path fill="#21a64a" d="M18.5 170.5l0.5 0 1-1.5 -1-1 -1.5 1zM69 169l1 1 0-1 0-0.5zM84 147.5l0.5 1 7-1 -4-3 -3-3.5zM18 119.5l1 0.5 1.5-2 -1.5-0.5 -1.5 0.5 0 1zM-2 103.5l0 0.5 6 0 0.5-0.5 0-5.5 -0.5-2.5 -6 0zM39.5 103.5l1 0.5 6-0.5 -3-3 -2-4 -1 0z"/>
</g>
<path d="M0.00 188.00 v3.8M0 188.00 h-3.8M20.57 188.00 v3.8M0 167.51 h-3.8M41.14 188.00 v3.8M0 147.01 h-3.8M61.71 188.00 v3.8M0 126.52 h-3.8M82.28 188.00 v3.8M0 106.02 h-3.8M102.85 188.00 v3.8M0 85.53 h-3.8M123.42 188.00 v3.8M0 65.04 h-3.8M143.99 188.00 v3.8M0 44.54 h-3.8M164.56 188.00 v3.8M0 24.05 h-3.8M185.13 188.00 v3.8M0 3.55 h-3.8" stroke="#111" stroke-width="0.7" fill="none"/>
<g class="tl">
<text x="0.00" y="200.80" text-anchor="middle">0</text>
<text x="-6.7" y="190.10" text-anchor="end">0</text>
<text x="20.57" y="200.80" text-anchor="middle">20</text>
<text x="-6.7" y="169.61" text-anchor="end">20</text>
<text x="41.14" y="200.80" text-anchor="middle">40</text>
<text x="-6.7" y="149.11" text-anchor="end">40</text>
<text x="61.71" y="200.80" text-anchor="middle">60</text>
<text x="-6.7" y="128.62" text-anchor="end">60</text>
<text x="82.28" y="200.80" text-anchor="middle">80</text>
<text x="-6.7" y="108.12" text-anchor="end">80</text>
<text x="102.85" y="200.80" text-anchor="middle">100</text>
<text x="-6.7" y="87.63" text-anchor="end">100</text>
<text x="123.42" y="200.80" text-anchor="middle">120</text>
<text x="-6.7" y="67.14" text-anchor="end">120</text>
<text x="143.99" y="200.80" text-anchor="middle">140</text>
<text x="-6.7" y="46.64" text-anchor="end">140</text>
<text x="164.56" y="200.80" text-anchor="middle">160</text>
<text x="-6.7" y="26.15" text-anchor="end">160</text>
<text x="185.13" y="200.80" text-anchor="middle">180</text>
<text x="-6.7" y="5.65" text-anchor="end">180</text>
</g>
<text class="ti" x="93.85" y="-4.8" text-anchor="middle">B-1200ppm-25%</text>
<text class="al" x="94.55" y="213.70" text-anchor="middle">Distance (cm)</text>
<text class="al" transform="translate(-22.6 95.00) rotate(-90)" text-anchor="middle">Distance (cm)</text>
<rect x="146.95" y="3.10" width="38.20" height="59.90" fill="#fff"/>
<rect x="150.55" y="7.50" width="11.8" height="5.40" fill="#342078"/>
<text class="lg" x="165.35" y="12.00">0</text>
<rect x="150.55" y="14.04" width="11.8" height="5.40" fill="#141a5e"/>
<text class="lg" x="165.35" y="18.54">1e+12</text>
<rect x="150.55" y="20.58" width="11.8" height="5.40" fill="#2042aa"/>
<text class="lg" x="165.35" y="25.08">2e+12</text>
<rect x="150.55" y="27.12" width="11.8" height="5.40" fill="#0c5292"/>
<text class="lg" x="165.35" y="31.62">3e+12</text>
<rect x="150.55" y="33.66" width="11.8" height="5.40" fill="#2cb04a"/>
<text class="lg" x="165.35" y="38.16">4e+12</text>
<rect x="150.55" y="40.20" width="11.8" height="5.40" fill="#ffee00"/>
<text class="lg" x="165.35" y="44.70">5e+12</text>
<rect x="150.55" y="46.74" width="11.8" height="5.40" fill="#f8921e"/>
<text class="lg" x="165.35" y="51.24">6e+12</text>
<rect x="150.55" y="53.28" width="11.8" height="5.40" fill="#ee2024"/>
<text class="lg" x="165.35" y="57.78">7e+12</text>
</g>
<g transform="translate(495.95 9.00)">
<g clip-path="url(#cpc)">
<rect x="-3" y="-3" width="194.30" height="194.90" fill="#2d1b6e"/>
<path fill="#241b68" d="M-2 191l170 0 -1-17 0-2.5 -1.5-3 -5.5-9.5 -2.5-3 -7-5 -2-2.5 -1-17.5 -1-5.5 -2-5.5 -4.5-8 -3-3 -7.5-5 -3-3 -1.5-1.5 -5-7.5 -13-11 -6-8 -7-7.5 -11.5-7.5 -5-4 -6-7.5 -3-2 -6.5-3 -3-0.5 -17.5-2 -1.5-1 -14.5-13 -2.5-1.5 -4-1 -21-0.5z"/>
<path fill="#1d1a64" d="M-2 191l167.5 0 -1-17 -1-4 -5.5-9.5 -2-2.5 -8-5.5 -2-2.5 -0.5-3 -0.5-16 -1-4 -1.5-5.5 -5-8 -1.5-2 -8-5.5 -3.5-3.5 -7-9.5 -13-10.5 -5-7.5 -7-7.5 -12-7.5 -5-4.5 -6-7 -2-2 -8.5-3 -18.5-2.5 -1.5-0.5 -15-13 -2.5-2 -4-0.5 -19.5-0.5z"/>
<path fill="#171a60" d="M-2 191l165 0 -0.5-17 -1-3 -5.5-9.5 -1.5-1.5 -8-5.5 -1.5-2 -1.5-2.5 -1-19 -0.5-4 -1.5-4 -4.5-8 -1.5-1.5 -8-5.5 -4.5-4 -6.5-9.5 -13-11 -4.5-6.5 -7.5-8 -8.5-5 -2.5-2 -5.5-4.5 -6.5-7.5 -1.5-1.5 -7-2.5 -20-3 -17.5-14.5 -1.5-1 -2.5 0 -19.5-0.5z"/>
<path fill="#161f68" d="M-2 191l148.5 0 0-9 -2-10.5 -1.5-9.5 -0.5-1.5 -1.5-1.5 -11.5-8 -1.5-1 -0.5-1.5 -1.5-16.5 -2-14.5 -1-3 -1-1 -1.5-1.5 -2-1 -11-4.5 -1-0.5 -1.5-5.5 -1-8.5 -1.5-3 -4.5-3.5 -1-1 -10.5-1 -3-1 -1.5-3 -3-10.5 -2.5-3 -4-2 -10.5-2 -1.5-0.5 -1-1 -4.5-9 -1.5-1.5 -16-2.5 -6.5-4.5 -1.5-0.5 -2.5 0 -9.5 0.5 -2.5 1 -2.5 2 -2.5 5.5 -4.5 7 -1.5 0 -6 0zM41.5 157l-3-2 -2-1.5 -3-3 -1.5-3.5 0-4 0.5-1.5 1-3 3.5-3.5 2-1.5 2.5-1 4-0.5 4 1.5 1.5 1.5 4 4 1.5 4 0 4 -1.5 3 -2.5 3 -2.5 2 -3 1.5 -2.5 0.5z"/>
<path fill="#18297a" d="M-2 191l126.5 0 0-7.5 -1.5-23 -2-5.5 -4-5 -1.5-8.5 -1-2.5 -8-4 -1.5-1.5 -3-5.5 -1.5-10.5 -2.5-11 -1-10.5 -0.5-1.5 -1-1.5 -1.5-1 -1-0.5 -11-1 -10.5-3.5 -8.5-1.5 -2-0.5 -1-1.5 -0.5-1 -2-9.5 -1-1.5 -2.5-2.5 -4-2.5 -11-1 -6.5-1.5 -5.5-0.5 -11 0 -10.5 2 -7.5 0zM41.5 158l-4-2 -4-3.5 -2.5-4 -0.5-3 0-2.5 1.5-4 2-2.5 3-3 3.5-2 2.5-0.5 2.5 0 3 0.5 2.5 1.5 4 4 2 3.5 1 2.5 0 2.5 -0.5 3 -1.5 2.5 -2.5 3 -2.5 2 -1 1 -3 1 -2.5 0.5z"/>
<path fill="#1c338e" d="M-2 191l120.5 0 0-19.5 -0.5-8 -0.5-3 -2-2.5 -9-2.5 -1.5-1 -0.5-0.5 -1-1.5 -0.5-2.5 -1-11 -2.5-5.5 -4-4 -2.5-2 -2-0.5 -1-1.5 -5.5-8 -2.5-7 -1.5-2 -2.5-1.5 -5-2 -2.5-1 -7.5-6 -6-9 -5-5.5 -2-7 -1.5-2 -4-1.5 -5.5-1 -5.5-3 -5.5-1.5 -10.5-0.5 -12 3 -7.5 0zM41.5 159.5l-2.5-1 -5.5-4.5 -3.5-4 -1-3 0-2.5 0.5-3 1-2.5 4.5-5 2.5-2.5 3-1.5 4-0.5 4 0.5 2.5 2 3.5 3 2.5 2.5 1.5 3 1 2.5 0 2.5 -0.5 3 -1.5 2.5 -3.5 4 -3 2.5 -1 1 -4.5 1.5z"/>
<path fill="#1e3da0" d="M-2 191l18 0 0-6 0-1.5 1.5-1 8 0 1.5 0 1.5 1 0 7.5 31.5 0 0-7.5 0.5-0.5 1.5-0.5 1 0 7 0 1.5 0.5 1 0.5 0 1.5 0 6 30.5 0 0-9 -1-2.5 -1-3 -1.5-1 -2.5-1.5 -3-0.5 -10-1 -0.5 0 -0.5-1 -0.5-8 0-1.5 1-1 1-0.5 9.5-1 1.5-0.5 1.5-1 0.5-1.5 1-2.5 0.5-4 -0.5-9.5 -0.5-1.5 -0.5-1.5 -3.5-4 -1-0.5 -9.5-1 -1.5 0 -2-1 -1-1.5 -0.5-1.5 -1-10.5 -1-3 -2.5-2 -2.5-1.5 -11-1 -2-0.5 -1-1.5 -0.5-1.5 -1.5-10.5 0-1.5 -1.5-2 -4-4 -11-1.5 -2.5-0.5 -1.5-1 -1-2 -2.5-9.5 -0.5-1 -3-1.5 -2.5-0.5 -8 0 -2.5 0.5 -3.5 1.5 -1 1 -3.5 8.5 -1 1 -2 0.5 -6 0 0 32 6 0 1.5 0.5 0.5 1 0.5 1 0 7 -0.5 2.5 -0.5 1 -7.5 0 0 31.5 7.5 0 1 1.5 0 1.5 -0.5 8 -0.5 1 -1.5 0.5 -6 0zM39 175.5l-1.5-0.5 -1-1 -1-1.5 0-2.5 0-11 -1-1 -2-3 -3-1.5 -10.5 0 -3 0 -1-1 -1-1.5 -1-2.5 0.5-9.5 1.5-2 1-1 3-0.5 10.5 0 1.5-0.5 4-4 0.5-1.5 0-12 1-2 1-1 1.5-0.5 11-0.5 2 1 1 1.5 0.5 1.5 0 12 0 1.5 1.5 2 3 2 1 0.5 12.5 0 1 0.5 1.5 0.5 1 2.5 0 11 -0.5 1 -1 1.5 -2 1 -12.5 0 -1 0.5 -3 2.5 -1 1.5 -1 1 0 12.5 0 1 -1 1.5 -2 1.5zM19 106.5l-1.5 0 -1.5-1.5 0-9 0-2 1.5-0.5 1.5-0.5 8 0 1 1.5 0.5 1.5 -0.5 9.5 -1 1z"/>
<path fill="#1e44a7" d="M-2 191l10 0 0-7.5 -1-1.5 -1.5-1 -7.5 0zM36.5 191l15.5 0 0-7.5 -1-1 -1-1 -9.5 0 -1.5 0 -1.5 0.5 -1 1.5zM80.5 191l15.5 0 -0.5-7.5 -1.5-2 -1 0 -8.5-0.5 -1 0 -1.5 0.5 -1.5 2zM15.5 174l0.5 0.5 3 0.5 8-0.5 1-0.5 1-1.5 0.5-2.5 -0.5-8 -1-2 -1-0.5 -1.5 0 -8 0 -1.5 0 -1 1 -1 1.5 0 1.5 0 8 0.5 1zM60 174l2 0.5 8 0.5 1.5 0 1.5-1 1-1.5 0.5-1 0-9.5 -1-1.5 -1-0.5 -2.5-0.5 -8 0 -1.5 0.5 -0.5 0.5 -1 1.5 0 9.5 0.5 1zM-2 152.5l7.5 0 1.5-1.5 0.5-2.5 0-8 -1-2.5 -1-1 -7.5-0.5zM82.5 152.5l1 0.5 1 0 8.5-1 1-0.5 1-1.5 0-1.5 -0.5-8 -0.5-1.5 -2.5-0.5 -8-1 -1.5 0.5 -0.5 1 -0.5 1.5 0 9.5 0 1zM16 129.5l3 0.5 8-0.5 1-0.5 1-1 0.5-1 0-9.5 -1.5-2.5 -1-0.5 -9.5 0 -1.5 0 -1 1.5 -1 1.5 0 9.5 0.5 1zM60 128l0.5 1 2.5 0.5 8.5-0.5 1-1 0-4.5 -0.5-6 -0.5-0.5 -1.5-0.5 -8-0.5 -1.5 0.5 -0.5 1 -0.5 1 0 8.5zM-2 108l0 0.5 7.5 0 1-1 1-1 0.5-2.5 0-8 -0.5-1.5 -1-1 -1-1 -7.5 0zM36.5 106.5l2.5 1.5 11-0.5 0.5-1 0.5-1.5 -0.5-8 -0.5-2.5 -1.5-0.5 -8-1 -1.5 0 -2 1.5 -0.5 1.5 -0.5 8 0 1z"/>
</g>
<path d="M0.00 188.90 v3.8M0 188.90 h-3.8M20.57 188.90 v3.8M0 168.41 h-3.8M41.14 188.90 v3.8M0 147.91 h-3.8M61.71 188.90 v3.8M0 127.42 h-3.8M82.28 188.90 v3.8M0 106.92 h-3.8M102.85 188.90 v3.8M0 86.43 h-3.8M123.42 188.90 v3.8M0 65.94 h-3.8M143.99 188.90 v3.8M0 45.44 h-3.8M164.56 188.90 v3.8M0 24.95 h-3.8M185.13 188.90 v3.8M0 4.45 h-3.8" stroke="#111" stroke-width="0.7" fill="none"/>
<g class="tl">
<text x="0.00" y="201.70" text-anchor="middle">0</text>
<text x="-6.7" y="191.00" text-anchor="end">0</text>
<text x="20.57" y="201.70" text-anchor="middle">20</text>
<text x="-6.7" y="170.51" text-anchor="end">20</text>
<text x="41.14" y="201.70" text-anchor="middle">40</text>
<text x="-6.7" y="150.01" text-anchor="end">40</text>
<text x="61.71" y="201.70" text-anchor="middle">60</text>
<text x="-6.7" y="129.52" text-anchor="end">60</text>
<text x="82.28" y="201.70" text-anchor="middle">80</text>
<text x="-6.7" y="109.02" text-anchor="end">80</text>
<text x="102.85" y="201.70" text-anchor="middle">100</text>
<text x="-6.7" y="88.53" text-anchor="end">100</text>
<text x="123.42" y="201.70" text-anchor="middle">120</text>
<text x="-6.7" y="68.04" text-anchor="end">120</text>
<text x="143.99" y="201.70" text-anchor="middle">140</text>
<text x="-6.7" y="47.54" text-anchor="end">140</text>
<text x="164.56" y="201.70" text-anchor="middle">160</text>
<text x="-6.7" y="27.05" text-anchor="end">160</text>
<text x="185.13" y="201.70" text-anchor="middle">180</text>
<text x="-6.7" y="6.55" text-anchor="end">180</text>
</g>
<text class="ti" x="93.85" y="-4.8" text-anchor="middle">B-1200ppm-50%</text>
<text class="al" x="94.55" y="214.60" text-anchor="middle">Distance (cm)</text>
<text class="al" transform="translate(-22.6 95.45) rotate(-90)" text-anchor="middle">Distance (cm)</text>
<rect x="147.05" y="4.10" width="38.10" height="59.90" fill="#fff"/>
<rect x="150.65" y="8.70" width="11.8" height="5.40" fill="#342078"/>
<text class="lg" x="165.45" y="13.20">0</text>
<rect x="150.65" y="15.22" width="11.8" height="5.40" fill="#141a5e"/>
<text class="lg" x="165.45" y="19.72">5e+11</text>
<rect x="150.65" y="21.74" width="11.8" height="5.40" fill="#2042aa"/>
<text class="lg" x="165.45" y="26.24">1e+12</text>
<rect x="150.65" y="28.26" width="11.8" height="5.40" fill="#0c5292"/>
<text class="lg" x="165.45" y="32.76">2e+12</text>
<rect x="150.65" y="34.78" width="11.8" height="5.40" fill="#2cb04a"/>
<text class="lg" x="165.45" y="39.28">2e+12</text>
<rect x="150.65" y="41.30" width="11.8" height="5.40" fill="#ffee00"/>
<text class="lg" x="165.45" y="45.80">3e+12</text>
<rect x="150.65" y="47.82" width="11.8" height="5.40" fill="#f8921e"/>
<text class="lg" x="165.45" y="52.32">3e+12</text>
<rect x="150.65" y="54.34" width="11.8" height="5.40" fill="#ee2024"/>
<text class="lg" x="165.45" y="58.84">4e+12</text>
</g>
<g transform="translate(144.85 277.60)">
<g clip-path="url(#cpd)">
<rect x="-3" y="-3" width="194.30" height="194.00" fill="#2d1b6e"/>
<path fill="#241b68" d="M-2 190l173 0 -1-18 -1-4 -7-12 -3.5-3 -5-4 -2-1.5 -0.5-2.5 -1-17.5 -1.5-6.5 -1-3 -6-9 -3-3 -6-4 -3.5-3 -2.5-3 -3.5-6 -1.5-1.5 -12.5-10 -1.5-1.5 -3.5-6 -8.5-8.5 -10-6 -3.5-3 -2.5-2 -4.5-6 -3.5-3 -3-1.5 -6.5-3 -7-1 -9-0.5 -4.5-1.5 -14.5-12.5 -3-1.5 -2.5-1 -2.5-0.5 -21-0.5z"/>
<path fill="#1d1a64" d="M-2 190l171.5 0 -1-18 -0.5-2.5 -1-3 -7-10.5 -1.5-1.5 -6.5-5 -1.5-2 -0.5-2.5 -0.5-16 -1.5-5.5 -1.5-4.5 -5.5-9 -2.5-3 -7.5-5 -3-2.5 -1.5-2 -5-7.5 -13.5-11 -5.5-8 -7-7.5 -2.5-1.5 -9.5-5.5 -4.5-4 -7-8 -2-2 -2-1 -7.5-2.5 -16-2 -3-0.5 -13.5-10.5 -3-3 -3.5-2 -4-0.5 -19.5-0.5z"/>
<path fill="#171a60" d="M-2 190l169.5 0 -1-17 -1-4 -3-4.5 -1.5-2 -3-5.5 -7.5-6 -2-3.5 -0.5-4 0-14.5 -0.5-3 -1-4 -1-2.5 -5.5-9 -3-3 -6.5-4 -3-3 -2-2.5 -4.5-7 -2.5-2.5 -11-8 -1-1.5 -4.5-6.5 -7.5-8 -1.5-1.5 -8.5-4.5 -1-1 -5.5-4.5 -5.5-6.5 -2.5-2 -2-1.5 -6-2.5 -8-1.5 -11-1 -2.5-1 -3-2 -5-3 -2 0 -2.5 4.5 -1 1 -5.5-4.5 -2.5-1.5 -21-0.5zM-2 25.5l0 0.5 21-0.5 1 0 1.5-1.5 -2.5-0.5 -21-1z"/>
<path fill="#161f68" d="M-2 190l158 0 0-7.5 0.5-8 -0.5-2.5 -4.5-8 -8-7 -4.5-5.5 -1-1 -0.5-11 1-4 1.5-2 2.5-1.5 1.5-1.5 1-3 -1.5-5.5 -3.5-5.5 -2-3.5 -1-2 -2-2 -7-5 -3.5-3.5 -3.5-5.5 -2.5-3.5 -8-6 -4-3.5 -2.5-3 -3-5 -7-7.5 -3-2 -6.5-3.5 -4-3 -4.5-4.5 -6-7 -4-2 -4-2 -5-1 -10-0.5 -6.5-1 -1.5-1 -1.5 0.5 -3 3.5 -1 0.5 -5.5-0.5 -1-0.5 -3.5-2 -6-4.5 -19.5-0.5z"/>
<path fill="#18297a" d="M-2 190l154 0 -0.5-7.5 1.5-8 -1-2.5 -2.5-5.5 -8.5-7 -4-5 -1.5-3 -1-4 0-9 2-8 0.5-3 -1-3.5 -3.5-6 -2-2.5 -7-5 -4-4 -1-2 -3-5 -2.5-3 -13.5-10.5 -5-8 -5.5-6.5 -4.5-2.5 -4-2 -3.5-2.5 -5.5-5 -6-7 -3.5-2 -5.5-1 -6.5 0 -9.5-1 -4 0.5 -1.5-0.5 -4-1 -4-0.5 -8-4.5 -1.5-0.5 -2.5-0.5 -5 1.5 -2 1 -1.5 1.5 1 4 -0.5 1.5 -1.5 2.5 -1.5 0 -6 0z"/>
<path fill="#1c338e" d="M-2 190l149 0 0-7.5 1-6.5 0-3 -0.5-2.5 -2-2.5 -7-7 -5.5-6.5 -1-3 -1-4 0-9 2.5-7 0.5-4 -0.5-2.5 -3-5.5 -1.5-1.5 -6.5-5 -1.5-1 -5-6 -4-6.5 -1-1.5 -13-9.5 -1-2 -4-6.5 -5.5-6 -11.5-7 -6-5 -7-8 -2.5-1 -4-1 -8 0 -9.5-1 -4 1 -5.5 0 -2.5 1 -8-2.5 -1.5 0.5 -1.5 1 -4.5 7 -1 1.5 -3 1.5 -2 0 -7.5 0.5zM43 147.5l-1.5-0.5 -1-2 -0.5-1.5 0.5-1 1-1.5 1.5-1 1.5 0 1 0.5 1.5 0.5 1 1.5 0 1 0 1.5 -0.5 1.5 -2 1z"/>
<path fill="#1e3da0" d="M-2 190l145 0 0-14 -1-3 -6-8 -3-5 -4-4 -1-2.5 -1.5-4.5 -0.5-10.5 1.5-3 1.5-2 1.5-2 0.5-4 -0.5-2 -2.5-4.5 -1.5-1.5 -5.5-4 -1.5-1.5 -5-6.5 -4-6.5 -1.5-1.5 -12.5-9.5 -1-1.5 -4-6.5 -5.5-6 -1.5-1 -9-5.5 -7-6 -6.5-7 -1.5-1 -4-1 -6.5 0 -11-0.5 -5.5 2 -5.5 4.5 -1 0 -9.5 1 -12 3 -7.5 0zM41.5 149.5l-1-1 -2-2 0-3 0.5-2.5 1.5-2 1.5-0.5 2.5-0.5 2.5 0.5 1.5 1 1.5 2 0 2 0 3 -1.5 2 -1.5 1 -2.5 0.5z"/>
<path fill="#1e44a7" d="M-2 190l136 0 0-7.5 -5-7.5 -0.5-2 -0.5-3 -0.5-9 -4-13.5 -0.5-9 4-11 0-1.5 -2-3.5 -6.5-5.5 -1.5-1.5 -4.5-5.5 -5-8 -13.5-10 -1.5-2 -3.5-6.5 -4.5-5 -2-2 -7-3.5 -2.5-2 -6-5 -6-7 -2-1 -4-1 -6.5 0.5 -9.5-0.5 -4 3.5 -4 1.5 -4 0.5 -11 0.5 -5 1.5 -5.5 2 -7.5 0zM44.5 152l-3-0.5 -2.5-0.5 -2-2 0-1.5 -0.5-4 0.5-4 0.5-1.5 1.5-1 1.5-0.5 4-0.5 4 0.5 1.5 0.5 1 1.5 0.5 1 0.5 5.5 -1 4 -1 2 -3 0.5z"/>
<path fill="#1848a1" d="M-2 190l126.5 0 0-7.5 0.5-4 0.5-6.5 0-11 -0.5-2.5 -1.5-3.5 -1-2.5 -3-3.5 0-1.5 -1-10.5 0-6.5 1-4.5 -1-1 -4-4 -5-5.5 -1.5-2.5 -3-7 -1-1.5 -10-5 -5-4 -1-1.5 -3-8 -3-4 -2.5-2.5 -8-4.5 -8-6.5 -3-3.5 -3-2 -2.5-0.5 -5 1 -9.5-1 -7 1.5 -16 0.5 -6 1.5 -6 2.5 -7.5 0zM39 155l-5.5-6 -0.5-1.5 0-6.5 0.5-2.5 5.5-5.5 1.5-0.5 5 0 3 0 1.5 0.5 5 5.5 0.5 1 0 8 -0.5 1.5 -5 5.5 -1.5 0.5 -3 0 -5 0z"/>
<path fill="#144c9b" d="M-2 190l122 0 0-7.5 2.5-4 1.5-6.5 -0.5-12 -1-3.5 -2-3.5 -3.5-3 -2.5-1 -1.5-1.5 -6.5-9.5 -2-5 -2-2.5 -3-2 -6-2.5 -2-1 -7-7 -1-2.5 -2-5.5 -1-1.5 -2.5-2 -5.5-2 -2.5-1 -7-7 -1-2.5 -1-5.5 -1-2.5 -1-1 -2.5-1.5 -7-1.5 -5-4 -4-2.5 -1.5-2 -1-3.5 -1.5-2 -1.5-1 -2.5-1 -4.5-0.5 -12 0.5 -5 1.5 -5.5 3 -7.5 0.5zM40.5 160l-1.5-0.5 -2.5-4 -2.5-2.5 -5.5-4 -0.5-1.5 0-8 1-1 3.5-2.5 2.5-2 4-5.5 1.5-0.5 8 0 1.5 0.5 1.5 3 2.5 3 5.5 4 0.5 1 0 8 0 1.5 -5 3.5 -2 2 -3 5 -1.5 0.5z"/>
<path fill="#0e5095" d="M-2 190l116 0 0-6 1-1.5 2-1 1.5-1 1-1.5 1.5-2.5 1-3.5 0.5-4 -0.5-9 -2-4 -3-3.5 -1.5-0.5 -9-1.5 -1.5-0.5 -0.5-1 -0.5-1.5 -0.5-8 -0.5-2.5 -1.5-2.5 -2-2.5 -2.5-1.5 -3-1 -9.5-0.5 -1-0.5 -1.5-1 -0.5-1.5 -1-10.5 -1-3 -2-2.5 -2-1.5 -3-1 -10.5-1 -1.5-0.5 -1-1.5 -1-12 -1-2.5 -2-2.5 -4.5-2 -10.5-1 -1.5-0.5 -1-0.5 -1.5-11 -2-2.5 -2-2 -3-1 -2.5 0 -11 0 -4 1.5 -4 2.5 -2 1.5 -0.5 2 -1.5 1 -6 0zM40.5 172l-1.5-0.5 -0.5-1 -1.5-9.5 -0.5-1 -1.5-3 -2.5-2.5 -4.5-3 -1-0.5 -8-1 -1.5 0 -1-1 -0.5-1.5 0-8 0.5-1 1-0.5 10.5-1.5 5-3.5 2-2.5 2-3 1-9.5 1-1.5 9.5-0.5 1.5 0 0.5 1 1 10.5 2 3 2 2.5 2.5 2 2.5 1.5 9.5 1 2 1 0.5 1 -0.5 8 0 1.5 -0.5 0.5 -11 2 -3 1.5 -2.5 2.5 -3 4.5 -0.5 1 -1 9.5 -0.5 1 -1.5 0.5z"/>
<path fill="#096080" d="M-2 190l105.5 0 0-6 0.5-1.5 1-1 10.5-2 1.5-1 2-2.5 2-4 0-11 -0.5-1 -1.5-3 -2-2 -1.5-1 -9-1.5 -1.5 0 -1.5-1 -1.5-2.5 -1-10.5 -1.5-3 -2.5-2.5 -3-1.5 -10.5-1 -1.5-0.5 -1.5-0.5 -1-2 0-1.5 -0.5-9 -1.5-3 -2-2.5 -2-1.5 -2-0.5 -9.5-0.5 -1.5-0.5 -1.5-1 -1-1.5 -0.5-1.5 -0.5-10.5 -1.5-2.5 -1.5-2 -1.5-1 -2.5-1.5 -9.5-0.5 -3-1 -1-1 -1-1 -1.5-11 -1-1.5 -2-1.5 -2.5-1 -1.5-0.5 -11 0.5 -4 2 -3 2 -2.5 11 -1 0.5 -1.5 0.5 -6 0zM37.5 173.5l-1-1.5 -0.5-1.5 -1-9.5 -0.5-1 -2-3 -4.5-3.5 -1-0.5 -9.5-1 -1.5 0 -1.5-1.5 -0.5-1.5 0-1.5 0-9 1-1.5 1-1 1.5-0.5 9.5-1 2.5-1 2-2 3-4 1.5-10.5 1.5-2.5 1.5-0.5 1.5 0 9.5-0.5 1 1 1.5 1.5 1.5 11.5 3 4 3.5 3 11 1 1 0.5 1.5 1 0.5 1.5 0 1 0 9.5 -0.5 1.5 -2 1 -2 1 -9.5 1 -4 3 -2.5 3.5 -0.5 1 -1 9.5 -0.5 1.5 -1 1 -1 1 -9.5 0.5 -1.5-0.5z"/>
<path fill="#037c5c" d="M-2 190l18 0 0-6 0.5-1.5 2.5-0.5 6.5 0 1.5 0 1.5 0.5 0 7.5 31.5 0 0-7.5 2-0.5 1 0 7 0 2 0.5 0.5 1.5 0 6 28.5 0 0-7.5 0.5-1 1.5-1.5 2-1.5 10.5-1.5 1.5-1 1-1.5 1.5-2.5 0-1.5 0-9.5 -1.5-2.5 -2.5-2.5 -10.5-1.5 -3-1.5 -1-1.5 -1-2.5 -1-10.5 -2-3 -1.5-1 -1.5-1 -1 0 -12.5-1 -1 0 -1-1 -1-2.5 -0.5-12 -1.5-3 -3-2 -1-0.5 -12.5-1 -2-0.5 -0.5-0.5 -1-3.5 -0.5-10.5 -1-3 -1.5-1.5 -2.5-2 -11-1 -2.5-0.5 -1.5-1 -1.5-3 -1.5-11 -1.5-1.5 -2-1 -1.5-0.5 -11 0.5 -2.5 1 -2 1.5 -0.5 1.5 -2 9.5 -1 1.5 -1.5 1 -1 0.5 -7.5 0.5 0 29 6 0 1.5 1 0.5 9 0 1.5 -0.5 0.5 -7.5 0.5 0 31 7.5 0.5 0.5 1 0 1.5 0 6.5 -0.5 2.5 -1.5 0.5 -6 0zM37.5 176l-2-1.5 -1-1.5 -0.5-2.5 -1-9.5 -0.5-1 -2.5-3 -2-1 -1-1 -11-1 -2-1 -1.5-1.5 -1-2.5 0-10.5 1.5-3 2-1 2.5-1 9.5-1 1-0.5 3-2 1.5-2.5 0.5-1.5 1.5-10.5 0.5-1.5 1.5-1 2.5-1 11-0.5 2.5 0.5 1.5 0.5 0.5 1.5 1 12 0.5 1.5 2 3 2.5 1.5 1.5 0.5 12 1 2 1 0.5 1 0.5 3 -0.5 10.5 -1 2.5 -1.5 1.5 -2.5 1 -9.5 1 -1.5 0.5 -3.5 3 -1.5 2.5 -1 11 -0.5 1.5 -1.5 1.5 -2.5 1.5 -9.5 0zM84.5 172l-1 0 -1-1.5 0-9.5 1-1 1 0 8.5-0.5 1 0.5 0.5 1 0.5 1.5 -0.5 8 -0.5 1.5 -1 0zM17.5 105.5l-1-1 -0.5-1 0-8 1-1.5 2-0.5 6.5 0 2 0.5 1 1.5 -0.5 9 -1 1.5 -1.5 0z"/>
<path fill="#0b944a" d="M-2 190l14.5 0 0-7.5 0-1 1-1.5 2.5-1 12-1 3-0.5 0.5-1.5 0-5.5 -0.5-9.5 -1.5-2 -1.5-1 -2.5-1 -9.5-0.5 -4 0 -1.5 0.5 -0.5 3 -1 12 -1 2.5 -1.5 1 -1 0 -7.5 0.5zM32 190l24.5 0 0-7.5 -0.5-2.5 -1-1 -4-0.5 -13.5 0 -4 0.5 -1 1 0 1.5zM76.5 190l22 0 -0.5-12.5 -1-1 -12.5-0.5 -2.5-0.5 -1.5-1 -1-1.5 -0.5-2.5 -0.5-12 0.5-1.5 0.5-0.5 14.5-0.5 2 0 1.5-1.5 0.5-5.5 -0.5-9.5 -0.5-1.5 -1.5-1.5 -1.5-1 -10.5-0.5 -2.5 0.5 -1.5 1.5 -0.5 2.5 -0.5 15 0 1.5 -0.5 0 -16 1 -1.5 0.5 -1 1 -1.5 1.5 -0.5 1 -1 11 0.5 4 0.5 1.5 1.5 0.5 12.5 0.5 2.5 1 1.5 1 1 2zM99.5 176l5.5 0 10.5-1.5 1.5-1.5 1-2.5 -0.5-9.5 -0.5-1.5 -1.5-1.5 -1 0 -8-1 -4.5 0 -2.5 0.5 -1 2.5 0 12 0 2.5zM-2 156l8.5 0 1.5-0.5 1-1 0.5-4 0-13.5 -0.5-2.5 0-1.5 -1-0.5 -2.5-0.5 -7.5 0zM10.5 130.5l0.5 0.5 1 0.5 4 0 9.5-0.5 2.5-1 2.5-2.5 0.5-1.5 1.5-15 1-1 1.5 0 15-0.5 1-0.5 1.5-1 1-2 0-2.5 -0.5-8 0-1.5 -2-2 -1-1 -1.5 0 -12-1 -3 0.5 -1.5 1 -0.5 2.5 0 12 -0.5 3 -3 0.5 -10.5-0.5 -2 0 -2-1.5 -1-3 0-9 0-3 1-1.5 2.5-1 13.5-0.5 1.5-1 0.5-5 -1.5-9.5 0-1.5 -2-1.5 -2.5 0 -8 0 -1.5 0 -1 1 -1 0.5 -0.5 1.5 -2 12 -0.5 2 -1 0.5 -2 0.5 -10 0.5 0 23 7.5 0 1 0.5 1.5 1 1.5 3 0.5 10.5zM61 130.5l10.5 0.5 2-0.5 1-1.5 0.5-1.5 0.5-1.5 -0.5-9 -1-1.5 -1.5-1.5 -1-0.5 -1.5 0 -8-0.5 -1.5 0 -1.5 0.5 -1 1.5 -1 2 0.5 9 0.5 1.5 1 1.5z"/>
<path fill="#21a64a" d="M-2 190l10.5 0 0-7.5 -0.5-1 -1.5-1.5 -1-0.5 -7.5 0zM36 190l16.5 0 0-7.5 -1.5-1 -1-0.5 -9.5 0 -3 0 -1.5 1.5zM80 190l15.5 0 0-7.5 -0.5-1 -1-1 -1-0.5 -8.5-0.5 -2.5 0.5 -1 1.5 -1 1zM15 174.5l1 0.5 3 0.5 8-0.5 1-1 1.5-2 0-1.5 -1-9.5 -1-1 -2-1 -8-0.5 -1.5 0 -2 1.5 -0.5 1 -0.5 1.5 0 8 0.5 2.5zM61 174.5l2 0.5 8.5 0.5 2-1 1.5-1.5 0.5-1 0-3 -0.5-8 -0.5-1 -2-1.5 -1 0 -9.5 1 -1.5 0.5 -1 1 0 1.5 -0.5 8 0 1.5 0.5 1zM104.5 173l2 0.5 6.5-1 1.5-0.5 1-0.5 0.5-2.5 -0.5-8 -1-0.5 -2.5-0.5 -5.5-1 -1.5 0 -1.5 1 -1 1 -0.5 1.5 0 8 0.5 1.5zM-2 151.5l0 1 7.5-0.5 1.5-1.5 0.5-3 -0.5-9 -0.5-1.5 -1-1.5 -7.5 0zM82 151.5l1.5 1.5 1 0 8.5 0 1-0.5 1-1 0.5-1 0.5-3 -1-8 0-1 -1-1 -1 0 -8.5-0.5 -1 0 -1.5 0.5 -0.5 1 -0.5 1 0 8 0 3zM15.5 129l2 0.5 8-1 1.5 0 1.5-1 0.5-1.5 0.5-9 0-1.5 -1.5-2 -1-0.5 -9.5-0.5 -1.5 0.5 -2 1 -1 1.5 -0.5 1.5 0.5 9 0.5 1.5zM60.5 127.5l1.5 1 8 0.5 1.5-0.5 1-0.5 0.5-2 -0.5-9 -1-1.5 -1.5 0 -8-0.5 -1.5 0.5 -1 1.5 0 1 0.5 8zM-2 109l0 0.5 7.5-0.5 1 0 2-1.5 1-3 -0.5-9 -0.5-1.5 -2-2 -1 0 -7.5-0.5zM37.5 107.5l1.5 0.5 9.5-0.5 1.5 0 1-1.5 0.5-1.5 0-1 0-8 -0.5-1.5 -1-1 -11-1 -2 0.5 -1.5 1.5 -0.5 2.5 0 8 0.5 1.5zM16 86l1.5 0.5 8 0 1.5-0.5 1-0.5 1-2 0-1.5 -1-6.5 0-1.5 -1-1.5 -8 0 -1.5 0 -1 1.5 -2 9.5 0.5 1z"/>
<path fill="#4db944" d="M16.5 170.5l1 1 6.5-1 -0.5-1.5 -4.5-4.5 -1.5-0.5zM64.5 170.5l5.5 1 1.5 0 0.5-1 -0.5-6 -1.5-0.5 -2 2.5 -3 2.5zM17.5 123.5l0 0.5 1.5-0.5 2.5-3 3-2.5 -0.5-1 -6.5-0.5 -1 0.5 0 1zM-2 104.5l0 1 6 0 1.5-0.5 0.5-1.5 -1-8 -1-0.5 -6 0zM38.5 104.5l0.5 0.5 1.5 0.5 7-1 1-0.5 0-1.5 -3.5-6 -1.5-1 -3-0.5 -1.5 0 -0.5 0.5 -0.5 8z"/>
</g>
<path d="M0.00 188.00 v3.8M0 188.00 h-3.8M20.57 188.00 v3.8M0 167.51 h-3.8M41.14 188.00 v3.8M0 147.01 h-3.8M61.71 188.00 v3.8M0 126.52 h-3.8M82.28 188.00 v3.8M0 106.02 h-3.8M102.85 188.00 v3.8M0 85.53 h-3.8M123.42 188.00 v3.8M0 65.04 h-3.8M143.99 188.00 v3.8M0 44.54 h-3.8M164.56 188.00 v3.8M0 24.05 h-3.8M185.13 188.00 v3.8M0 3.55 h-3.8" stroke="#111" stroke-width="0.7" fill="none"/>
<g class="tl">
<text x="0.00" y="200.80" text-anchor="middle">0</text>
<text x="-6.7" y="190.10" text-anchor="end">0</text>
<text x="20.57" y="200.80" text-anchor="middle">20</text>
<text x="-6.7" y="169.61" text-anchor="end">20</text>
<text x="41.14" y="200.80" text-anchor="middle">40</text>
<text x="-6.7" y="149.11" text-anchor="end">40</text>
<text x="61.71" y="200.80" text-anchor="middle">60</text>
<text x="-6.7" y="128.62" text-anchor="end">60</text>
<text x="82.28" y="200.80" text-anchor="middle">80</text>
<text x="-6.7" y="108.12" text-anchor="end">80</text>
<text x="102.85" y="200.80" text-anchor="middle">100</text>
<text x="-6.7" y="87.63" text-anchor="end">100</text>
<text x="123.42" y="200.80" text-anchor="middle">120</text>
<text x="-6.7" y="67.14" text-anchor="end">120</text>
<text x="143.99" y="200.80" text-anchor="middle">140</text>
<text x="-6.7" y="46.64" text-anchor="end">140</text>
<text x="164.56" y="200.80" text-anchor="middle">160</text>
<text x="-6.7" y="26.15" text-anchor="end">160</text>
<text x="185.13" y="200.80" text-anchor="middle">180</text>
<text x="-6.7" y="5.65" text-anchor="end">180</text>
</g>
<text class="ti" x="93.85" y="-4.8" text-anchor="middle">B-1200ppm-75%</text>
<text class="al" x="94.55" y="213.70" text-anchor="middle">Distance (cm)</text>
<text class="al" transform="translate(-22.6 95.00) rotate(-90)" text-anchor="middle">Distance (cm)</text>
<rect x="145.15" y="4.80" width="38.40" height="59.70" fill="#fff"/>
<rect x="148.75" y="9.30" width="11.8" height="5.40" fill="#342078"/>
<text class="lg" x="163.55" y="13.80">0</text>
<rect x="148.75" y="15.85" width="11.8" height="5.40" fill="#141a5e"/>
<text class="lg" x="163.55" y="20.35">1e+12</text>
<rect x="148.75" y="22.40" width="11.8" height="5.40" fill="#2042aa"/>
<text class="lg" x="163.55" y="26.90">2e+12</text>
<rect x="148.75" y="28.95" width="11.8" height="5.40" fill="#0c5292"/>
<text class="lg" x="163.55" y="33.45">3e+12</text>
<rect x="148.75" y="35.50" width="11.8" height="5.40" fill="#2cb04a"/>
<text class="lg" x="163.55" y="40.00">4e+12</text>
<rect x="148.75" y="42.05" width="11.8" height="5.40" fill="#ffee00"/>
<text class="lg" x="163.55" y="46.55">5e+12</text>
<rect x="148.75" y="48.60" width="11.8" height="5.40" fill="#f8921e"/>
<text class="lg" x="163.55" y="53.10">6e+12</text>
<rect x="148.75" y="55.15" width="11.8" height="5.40" fill="#ee2024"/>
<text class="lg" x="163.55" y="59.65">7e+12</text>
</g>
<g transform="translate(378.95 277.60)">
<g clip-path="url(#cpe)">
<rect x="-3" y="-3" width="194.30" height="194.00" fill="#2d1b6e"/>
<path fill="#241b68" d="M-2 190l164.5 0 -1-15.5 -1-4 -5-9.5 -1.5-1 -4.5-3.5 -2.5-2 -1.5-2.5 -1.5-3 -1-20 -1-7 -2.5-6.5 -2-2.5 -1.5-2 -7.5-5 -1-1.5 -2.5-4.5 -2.5-7.5 -1.5-2.5 -4-3.5 -6-3 -3.5-3 -1-1.5 -1.5-2.5 -2.5-5.5 -2.5-2.5 -3-2.5 -3-1.5 -9-2.5 -3-1.5 -5.5-5 -5-6 -4-2.5 -8.5-2.5 -20-1.5 -2.5-1.5 -4-2.5 -9.5-8.5 -3-2 -13.5-2 -8.5 0z"/>
<path fill="#1d1a64" d="M-2 190l161 0 0-7.5 -1.5-9.5 -5.5-9 -5.5-5.5 -2.5-2.5 -2-5.5 -1-20 -1.5-7 -2.5-6.5 -2.5-3.5 -6.5-4 -2-2 -2.5-4 -2.5-9.5 -2.5-3.5 -4-2.5 -10-4.5 -3.5-9.5 -3-4 -2.5-2 -2.5-1.5 -9.5-2.5 -4-2 -9.5-10 -2.5-2.5 -1.5-0.5 -8-2.5 -20.5-1.5 -4.5-2 -5-2.5 -9-7 -12.5-4 -8.5-0.5z"/>
<path fill="#171a60" d="M-2 190l157 0 0-7.5 -1.5-8 -4.5-8 -6.5-8 -2.5-7 -0.5-2.5 0-13.5 -1-5 -1.5-7 -4-7.5 -1-1 -5.5-3.5 -3-3.5 -2-4.5 -3-9.5 -1.5-2 -4-2.5 -8-4 -1.5-1 -1-1 -4-9.5 -1.5-2.5 -2-1.5 -3.5-2 -8-2 -4-2 -3.5-2 -6-6.5 -5-4.5 -7-2.5 -5.5-0.5 -16-1.5 -9.5-3.5 -5-2.5 -4.5-3 -4-2 -7-2.5 -2.5-0.5 -6-0.5z"/>
<path fill="#161f68" d="M-2 190l154.5 0 -0.5-7.5 -1.5-8 -3.5-6.5 -6-7 -0.5-1 -2.5-7 -0.5-2.5 0-13.5 -1.5-6.5 -1.5-5.5 -4-8 -4-3 -2.5-2.5 -1.5-2.5 -2-4.5 -3-9 -0.5-1.5 -2.5-2 -9.5-4.5 -3-2.5 -1.5-1.5 -3-8.5 -2-2.5 -1.5-1.5 -4-2 -8-2 -4-1.5 -5-3.5 -10-9 -5-2.5 -5.5-1 -7-0.5 -9-0.5 -7-1.5 -14.5-8.5 -8.5-3 -2.5 0 -6-0.5z"/>
<path fill="#18297a" d="M-2 190l152 0 0-7.5 -1-5 -1-3 -2.5-6 -6.5-7.5 -3.5-8 0-14.5 -1.5-8 -1.5-4.5 -3.5-7.5 -5.5-5.5 -2.5-4 -2-4.5 -2-6.5 -1.5-3 -1-1 -9.5-5 -3.5-3 -2-2.5 -4-8.5 -2-2.5 -4.5-2 -7-2 -4-1.5 -8-5 -7-6 -5-3 -8-2.5 -11-0.5 -4 0 -2.5-0.5 -5.5-1.5 -13.5-7.5 -7-2.5 -2.5-0.5 -6 0z"/>
<path fill="#1c338e" d="M-2 190l149.5 0 0-7.5 -0.5-5 -1-3 -2-4.5 -7-9 -3-8 0-14.5 -1.5-7 -0.5-2.5 -4.5-9.5 -5.5-6.5 -2.5-4 -2-4.5 -2-6.5 -2-2.5 -2-2 -6.5-3.5 -4-3 -3-3.5 -3-7 -3.5-3.5 -4-2 -7-2 -4.5-2 -8.5-5 -5.5-5 -3-2 -2.5-1 -6.5-1.5 -11-1 -4 0.5 -7-1.5 -13-7 -8.5-3.5 -2.5-0.5 -6 0z"/>
<path fill="#1e3da0" d="M-2 190l147.5 0 0-8 -1.5-7.5 -2-4 -6.5-8 -1-2.5 -2-5.5 0-1.5 0-4 0-9.5 -0.5-4 -1.5-5 -4-9.5 -7-10 -2.5-5 -2.5-6.5 -1.5-3 -3-2.5 -5-3 -5.5-4 -2.5-3.5 -2.5-5.5 -1.5-2 -5-3.5 -8.5-3 -4-1.5 -8.5-5 -3.5-2.5 -3-3 -4-2 -8-2 -9.5-0.5 -5.5 0.5 -5.5-1 -13-7 -9.5-2.5 -7.5-0.5 0 7.5 6 0 1.5 1 -1.5 0.5 -6 0z"/>
<path fill="#1e44a7" d="M-2 190l143.5 0 0-12.5 -1-4.5 -0.5-2.5 -5-5.5 -3-5 -1-7 0-4 0-12 -1.5-5.5 -3.5-9.5 -7.5-11.5 -6-12.5 -2.5-2.5 -6.5-4 -4.5-4 -2-3 -3-5.5 -1-1.5 -5.5-4 -11-4 -9.5-5 -4-2.5 -5-4.5 -3-1 -5-1.5 -11-1 -5.5 1 -5.5 0 -1-0.5 -5.5-3.5 -3.5-1.5 -3 0 -1.5 0 -6 9.5 -1 1.5 -2.5 0.5 -6 0zM41.5 148l-1-1.5 -1-1.5 0.5-2.5 0.5-1.5 2-1.5 2 0 1 0 1.5 1 1.5 1.5 0.5 1.5 -1 3 -1 1 -1.5 1 -2.5 0z"/>
<path fill="#1848a1" d="M-2 190l134 0 0-7.5 4.5-8 0.5-1.5 -6-10.5 -1.5-5.5 -0.5-2.5 1-5.5 -0.5-10.5 -2-8 -3-8.5 -6-9.5 -3.5-6.5 -3.5-7 -3.5-3.5 -6-4 -4-3.5 -1.5-2 -2.5-5 -2.5-3 -6-4 -10-4 -9.5-5 -4-2.5 -4-3.5 -1.5-0.5 -6.5-2.5 -11-0.5 -6.5 1.5 -5.5 0 -7-2 -2.5-0.5 -1.5 1 -3 5 -3.5 1.5 -4 0.5 -7.5 0.5zM40.5 153.5l-3-2 -1-1 -1.5-3 -1-4 1-4 2-2.5 1.5-1.5 2-1 4-0.5 4 0.5 3 2.5 2 2.5 1 4 -1 4 -1 2.5 -1.5 1.5 -2.5 1.5 -4 1z"/>
<path fill="#144c9b" d="M-2 190l128.5 0 0-7.5 1.5-8 1-4 0-2.5 -1.5-7 0.5-8 0.5-4 -0.5-10.5 -1.5-7 -3-8.5 -9.5-15.5 -3.5-8 -4.5-4 -5.5-4 -3-3 -4.5-7 -2.5-2.5 -6-4 -9-4 -9.5-4.5 -5.5-3.5 -4-3 -6.5-2.5 -11-1 -8 2 -1 0.5 -1.5 1.5 -1.5 0.5 -9.5 0.5 -12 2.5 -7.5 0zM40.5 154.5l-3-1.5 -1-1 -1.5-1.5 -1.5-2.5 -0.5-4.5 0.5-3.5 1.5-2.5 1.5-1.5 2.5-2 2.5-1 1.5 0 4 0 3 1 1 1 3 3.5 1 2.5 0.5 1.5 -0.5 4 -1 3.5 -1.5 1.5 -4 3 -4 0.5z"/>
<path fill="#0e5095" d="M-2 190l127 0 0-7.5 1-12 0-12 1-11 0-9 -2-7 -2.5-8 -7-11.5 -2.5-4 -3.5-7.5 -5-5 -7.5-6.5 -4-5.5 -3-3 -5.5-4 -20-9.5 -4-2.5 -4-3.5 -6.5-2.5 -11-0.5 -5.5 1.5 -4 2.5 -1.5 0 -12 1 -10.5 2.5 -7.5 0zM43 156l-4-1 -2.5-2 -1.5-1.5 -2-4 -1-2.5 0-2.5 1.5-4.5 1.5-2 2-1.5 2.5-1.5 2-1 4 0 4.5 1.5 2.5 1.5 1.5 1.5 1 2.5 1 2 0 4 -1 4 -1 2.5 -2 1.5 -3.5 2 -3 1z"/>
<path fill="#096080" d="M-2 190l126 0 0-7.5 1-12 0-14.5 1-8.5 -0.5-9 -2-7 -3.5-10.5 -4.5-7 -3.5-5 -4.5-8.5 -4.5-5 -6.5-5.5 -3.5-5 -4-4 -5.5-4 -20.5-9.5 -3-1.5 -5-4 -5-2 -11-1 -4 1.5 -2.5 1.5 -4.5 1.5 -12 0.5 -10.5 2.5 -7.5 0zM40.5 156l-3-1 -2.5-2 -1.5-2 -1-2 -1-4 0-2.5 0.5-3 1.5-2.5 1.5-2 1.5-1 2.5-2 4-1 2.5 0 3 1 2.5 1 1.5 1.5 1.5 1 2 3 1 4 0 2.5 -0.5 2.5 -1 3 -1.5 2 -2.5 2 -1.5 1 -4.5 1 -2.5 0z"/>
<path fill="#037c5c" d="M-2 190l124.5 0 0-7.5 1.5-12 0-16 0-5.5 -0.5-10.5 -3.5-12.5 -3-8 -1.5-2 -4.5-6 -4-6.5 -6-8 -4.5-4 -5-5.5 -10.5-8 -9.5-5.5 -11-4.5 -8.5-6 -2-1 -11-0.5 -5.5 2.5 -5.5 1.5 -12 1 -10.5 2.5 -7.5 0zM41.5 157.5l-2.5-1 -2.5-1.5 -3.5-3.5 -1.5-2.5 -0.5-2.5 -0.5-3 0.5-2.5 1.5-4 2-2.5 2-1.5 2.5-1.5 2.5-1 3 0 2.5 0 3 1 2 1.5 2 1.5 2 2.5 1.5 4 0.5 2.5 -0.5 3 -0.5 2.5 -1.5 2.5 -3 3.5 -2.5 1.5 -3 0.5 -2.5 0.5z"/>
<path fill="#0b944a" d="M-2 190l123 0 0-7.5 1.5-13.5 0-13 -1-17.5 -2-7 -1.5-6.5 -2.5-5.5 -1.5-2.5 -6-7 -2.5-4 -6-9.5 -2-2.5 -4.5-4.5 -3-2 -7-4 -3-3 -8.5-6 -4-2 -7-2.5 -6.5-4.5 -4-2.5 -11-0.5 -6.5 2.5 -3.5 1 -13 0.5 -10.5 2.5 -7.5 0zM39 157.5l-2.5-1.5 -2-1.5 -3-4 -1.5-3 0-2.5 0-2.5 0.5-3 1-2.5 2-2.5 4-3.5 3-1 2.5-0.5 2.5 0 4.5 1 2.5 1.5 2.5 2.5 2.5 4 1 2.5 0 4 -0.5 2.5 -1 3 -1.5 2.5 -1.5 1.5 -3 2 -2.5 1.5 -3 0.5 -2.5 0z"/>
<path fill="#21a64a" d="M-2 190l122 0 0-7.5 1.5-10.5 0-11 -0.5-6.5 -1.5-5.5 -1-10.5 -3-10.5 -1-3.5 -4.5-7.5 -5-4 -3-3 -2-4 -2.5-8 -2.5-4 -5-3.5 -8-2.5 -4-2 -3.5-2.5 -2-3.5 -2-2 -2-1.5 -1-0.5 -5.5-3.5 -3-0.5 -4-2 -2-1.5 -3-3 -11-0.5 -4 1.5 -2.5 0.5 -15 0.5 -12 3 -7.5 0zM40.5 159l-3-1 -2.5-2 -2-1.5 -2-3 -1.5-2.5 -0.5-2.5 0-4 0.5-3 1-2.5 1.5-2.5 1.5-1.5 3-2.5 2.5-1 2.5-1 4 0 3 0.5 2.5 1 3 2 2 2.5 2 2 1 3 0.5 3 0 2.5 -0.5 2.5 -1 3 -1.5 2.5 -2.5 3 -2 1 -2 1.5 -3 0.5 -4 0.5z"/>
<path fill="#4db944" d="M-2 190l120.5 0 0-7.5 1.5-12 0-10.5 -1-5.5 -1-3 -2-2.5 -1.5-6.5 -1.5-4 -6.5-7.5 -3.5-5 -3.5-9 -3-5.5 -2.5-8.5 -1-2 -6-5.5 -2.5-1.5 -6.5-2 -6.5-3.5 -8.5-3 -2.5-1 -3-2.5 -6-8 -1.5-2 -9.5-1 -5.5-2 -7-0.5 -12 0.5 -10.5 3 -7.5 0zM40.5 160l-3-1 -2.5-1.5 -2.5-1.5 -2-3 -1.5-2.5 -1.5-4 0-3 0-2.5 1-2.5 1.5-3 2.5-3 4-3 2.5-1.5 2.5-0.5 3-0.5 4 0.5 1.5 0.5 4 2.5 2.5 2.5 2 2.5 1.5 3 1 4 0 2.5 -1 4 -1 2.5 -2.5 3.5 -1.5 1.5 -4 2.5 -5.5 1.5 -2.5 0z"/>
<path fill="#8fcb36" d="M-2 190l119 0 0-7.5 2-12 0-9.5 -0.5-2.5 -1.5-4 -1.5-2 -7.5-2 -2.5-1.5 -0.5-3 -1-9 -0.5-2.5 -1.5-3 -2.5-2 -6.5-3.5 -4.5-4 -4-3.5 -1-3.5 -1.5-5 -1.5-2.5 -1-1 -3.5-2 -2-1 -7.5-8 -4.5-2.5 -4-6 -3-1.5 -4-1.5 -6-0.5 -4.5-1 -1.5-0.5 -3-9.5 -2.5-1.5 -2.5-1 -4-0.5 -9.5 0.5 -2.5 0.5 -7 2 -1 1.5 -1.5 2.5 -1.5 0.5 -6 0zM39 163l-1.5-2 -5.5-4 -2.5-2.5 -2.5-4 -2-1.5 -0.5-1.5 0-2.5 0-5.5 6.5-8 8-6.5 1.5-0.5 1-0.5 7 0 9 7.5 6.5 8 0 4 0 4 -1 1.5 -1 1.5 -4 5.5 -3 2.5 -4 2.5 -1 1.5 -1.5 1 -4 0.5 -4-0.5z"/>
<path fill="#cadc23" d="M-2 190l115.5 0 0-6 0.5-1.5 1.5-2 1.5-4.5 0.5-4 0-12 -0.5-2 -1.5-2 -9-3 -1.5-0.5 -1-1 -1-2.5 -0.5-10.5 -1.5-4 -2.5-3 -2-1 -2.5-1 -10.5-1 -1.5-1 -0.5-1.5 -1-10.5 -1-3 -2-2.5 -2-1.5 -3-1 -10.5-1 -1.5-1 -0.5-2 -1-9.5 -1-3 -2-2.5 -3.5-2 -2.5-1 -11-0.5 -2.5-1 -1-0.5 -0.5-1.5 -2-8 -1-1.5 -1-0.5 -2-1 -2 0 -11 0 -3.5 1.5 -1.5 1.5 -3.5 8 -1 1.5 -2.5 0.5 -6 0 0 37.5 6 0 0.5 3.5 -0.5 1.5 -6 0 0 33.5 6 0 1.5 0 0.5 1 0 1.5 0 8 -0.5 1.5 -7.5 0zM39 172.5l-1-0.5 -0.5-1.5 0-5.5 -0.5-1 -0.5-1.5 -5.5-4 -5.5-6.5 -1.5-1 -6.5-0.5 -1.5-0.5 -0.5-1 -0.5-1.5 0.5-8 0-1 0.5-1 1.5-0.5 5.5 0 1 0 1.5-1 4.5-5.5 6.5-5.5 0.5-1.5 0.5-6.5 1.5-1.5 1.5-0.5 9.5 0 1.5 2 0 6.5 0.5 1.5 6.5 5.5 4.5 5.5 3 0.5 5.5 0.5 1 0.5 0.5 2 0 9.5 -1.5 1.5 -7 0.5 -1.5 0.5 -5 6.5 -6 4.5 -0.5 1.5 -0.5 1 0 5.5 -0.5 1.5 -0.5 0.5zM90 169.5l-0.5-0.5 -1-6.5 3-1 1.5-0.5 1 1.5 -0.5 6.5 -0.5 1.5z"/>
<path fill="#f4ea0b" d="M-2 190l17 0 0-6 0.5-1.5 0.5-0.5 1.5-0.5 8-0.5 1.5 0.5 1 0.5 1 0.5 0 7.5 30.5 0 0-7.5 1-1 2.5-0.5 8.5 0.5 1 0.5 0.5 2 0 6 31.5 0 0.5-7.5 0.5-1 1.5-1.5 7.5-4.5 1-1.5 1-3.5 0-9.5 -1-1.5 -1-1 -9.5-2.5 -1.5-0.5 -1-1 -1-4 -0.5-12 -1.5-3 -2.5-2.5 -3-2 -10.5-0.5 -1.5-0.5 -1.5-1 -1-1.5 -0.5-1.5 -0.5-9 -1-3 -2-2 -2.5-2 -1.5-0.5 -9.5-0.5 -1.5-0.5 -1.5-1 -1-3 -1-10.5 -1.5-2.5 -1.5-1.5 -1.5-1.5 -2.5-1 -11-0.5 -4.5-1 -1-0.5 -1-1.5 -3.5-10 -1-1.5 -2.5 0 -8 0 -2 1.5 -4.5 9.5 -1 1 -2 1 -2.5 0.5 -7.5 0 0 28.5 7.5 0 1 1 1 1.5 0 8 0 2.5 -1 1 -1 1 -7.5 0 0 28.5 7.5 0 1 0.5 1 1.5 0.5 2.5 0 8 -0.5 1.5 -0.5 1 -1.5 1 -7.5 0zM40.5 174.5l-1.5 0 -1.5-0.5 -1-1.5 -1-2 0-5.5 -0.5-1 -1-1.5 -4.5-4 -4-4.5 -1.5-1 -1-0.5 -7-0.5 -1-0.5 -1-1 -0.5-3 0-9 1.5-2 1-1 8-0.5 1.5-1 4.5-5 4.5-4 1-3 0-5 0.5-1.5 1.5-1.5 1.5-0.5 1.5 0 9.5 0 2 0.5 1 1.5 0.5 1.5 0.5 6.5 0.5 1.5 7.5 7.5 1 1 1.5 1 7 0 1 0.5 1.5 1 1 2.5 0 10.5 -1 2 -1.5 1 -1 0.5 -5.5 0 -1.5 0.5 -1.5 0.5 -4 5 -4.5 4 -1 1.5 -0.5 1 -0.5 7 -1.5 1.5 -1 1 -1.5 0zM83.5 173.5l-2-1.5 -0.5-1.5 0-9.5 1-1.5 1.5-1 1 0 9.5 0 3 0.5 1.5 1 0.5 1 0 1.5 -0.5 8 -0.5 1.5 -2 1 -2 0.5zM17.5 106.5l-1.5-0.5 -0.5-1.5 0-1 -0.5-9.5 1-2.5 1.5-1 9.5 0 1 1 1 2.5 0 9.5 -1 2 -1 1z"/>
<path fill="#ffea00" d="M-2 190l15 0 0-7.5 0.5-1.5 1-1 3-1 8 0 2.5 0.5 1.5 0.5 1 1.5 0.5 1 0 7.5 26 0 0.5-7.5 0-1 1.5-2 1.5-0.5 2.5 0 8.5 0 2.5 1 1 1.5 0.5 1 0 7.5 26.5 0 0-8.5 -0.5-3 -0.5-1 -1.5-1 -2.5-0.5 -12.5-0.5 -2.5-0.5 -1.5-0.5 -0.5-1.5 -1-2.5 0-9.5 0.5-1.5 1-2 3-1 10.5-0.5 3-0.5 1-1.5 1.5-2.5 0-2.5 -0.5-10.5 -2-3.5 -3-2 -16-1 -1-0.5 -0.5-13.5 -1-2.5 -1.5-2 -2.5-1.5 -12.5-1 -1 0 -1.5-1 -0.5-2.5 -0.5-12 -0.5-1.5 -2-2.5 -3-2.5 -11-0.5 -2.5 0.5 -3 1 -1 1.5 -1 2.5 -0.5 10.5 -0.5 1.5 -0.5 1.5 -2 1 -1 0.5 -8 0 -3-0.5 -1.5-1 -1-1.5 -0.5-1.5 -0.5-10.5 -0.5-2.5 -0.5-1.5 -2-1.5 -3-0.5 -8.5 0 0 24.5 7.5 0 1 0.5 2 1 1 3 0 9 -0.5 3 -0.5 1.5 -2 0.5 -1 0.5 -7.5 0 0 24.5 7.5 0 2.5 0.5 1.5 2 0.5 4 0 9.5 -1.5 2.5 -2 1.5 -1 0 -7.5 0zM37.5 176l-1-0.5 -1.5-1 -0.5-1.5 -0.5-2.5 0-5.5 -0.5-1 -8-8 -1.5-1.5 -1 0 -8-0.5 -2-1 -1-1.5 -0.5-4 0-8 0.5-2.5 0.5-1.5 1-1 1.5-0.5 2.5-0.5 5.5 0 1-0.5 8.5-8 1-1.5 0-1.5 0.5-6.5 1-2 1.5-1 2.5-1 15 0 1 0.5 0.5 1 0.5 10.5 0.5 1.5 5.5 5.5 2.5 1.5 11 0.5 1 0 0.5 6 -0.5 12 -1 2 -1.5 1 -2.5 0.5 -7 0.5 -1.5 1 -7 7 -1 1.5 -0.5 1 0 5.5 -0.5 2.5 -1.5 2.5 -2.5 1 -9.5 0zM103.5 173l1.5 1 1.5-0.5 2.5-1.5 1-1.5 -0.5-8 -0.5-1.5 -2.5-1 -2 0 -1 1 -0.5 9.5zM18.5 84.5l8.5 0 1-1 -1-2.5 -1.5-0.5 -6.5 0.5 -1.5 0 -1.5 2.5 1.5 1z"/>
<path fill="#fedb03" d="M-2 190l12.5 0 0-7.5 0-1 -1-2 -3-1 -8.5-0.5zM33.5 190l21.5 0 0-7.5 -0.5-2.5 -2-1.5 -2.5-0.5 -11 0 -2.5 0.5 -1.5 0.5 -1 1 -0.5 2.5zM78 190l21.5 0 0-7.5 -0.5-1 -1.5-1.5 -2-1.5 -1.5-0.5 -10.5-0.5 -4 1 -1.5 1.5 0 1.5zM13 176l3 1 11 0 2.5-0.5 1.5-0.5 0.5-1.5 0.5-4 0-6.5 -6.5-6.5 -1.5-1 -8-0.5 -2.5 1 -1 1.5 -0.5 2.5 0 11 0.5 2.5zM57.5 176l3 1 9.5 0 4 0 2-1 1-1.5 0-2.5 0-11 -0.5-2.5 -1-1.5 -3-1 -8 0 -1.5 1 -5.5 5.5 -1 1.5 0 1 0 5.5 0.5 4zM83 154.5l11-0.5 1.5-1 1.5-1.5 1-2.5 -0.5-9.5 0-1 -1-1.5 -2.5-2 -1-0.5 -9.5-0.5 -3 1 -1 2 -1 2.5 0 11 1 2.5 1 1zM-2 153l0 1 7.5 0 2.5-1 1-1.5 1-2.5 0-10.5 -1-3 -1.5-1 -2-1 -7.5 0zM16.5 131.5l7.5 0 1.5-1 5.5-5.5 1-1.5 0-6.5 -0.5-3 -0.5-1.5 -1.5-1 -1.5-0.5 -10.5 0 -4 0.5 -1.5 1.5 -0.5 4 0.5 10.5 0 1.5 1 1.5 2 1zM61.5 129l1.5 1 1.5 0 5.5 0 2.5-0.5 1.5-1 0.5-1 0-1.5 -0.5-8 0-1 -1.5-2 -1-1 -1.5 0 -8-0.5 -1.5 0 -1.5 1 -1 2.5 0.5 8 0.5 1zM-2 110l0 0.5 8.5 0 3-1 1-0.5 0.5-4.5 -0.5-10.5 -1-1.5 -3-2 -1-0.5 -7.5 0zM34.5 109l2 0.5 2.5 0.5 9.5-0.5 2.5-0.5 1.5-0.5 1.5-2 0-2 -0.5-9 0-1.5 -1.5-1.5 -2-1.5 -9.5-0.5 -3 0 -2.5 2 -1 1.5 -0.5 1.5 0 8 0 3.5z"/>
<path fill="#fcbe0e" d="M-2 190l10.5 0 -0.5-7.5 -0.5-1 -2-1.5 -7.5 0zM35.5 190l17.5 0 -0.5-7.5 -0.5-1 -2-1.5 -9.5 0 -3 0.5 -1 1 -1 1zM80 190l17 0 -0.5-7.5 -1-1.5 -1.5-0.5 -1-0.5 -8.5 0 -2.5 0.5 -1 1 -1 1zM16 174.5l3 0.5 8 0 1-0.5 1.5-1.5 1-2.5 -0.5-6.5 -0.5-1.5 -4-4 -1.5-0.5 -1 0 -5.5 0 -2 0.5 -1.5 1.5 -0.5 2.5 0 8 0.5 1.5 0.5 1zM60.5 174.5l1.5 0.5 9.5 0 1-0.5 1.5-1.5 1-1 0-1.5 0-9.5 -0.5-1 -1.5-1.5 -1.5-0.5 -7 0 -1.5 0.5 -4 4 -1 1.5 0 1 0 5.5 0 1.5 1 1zM-2 151.5l0 0.5 7.5 0 2-1.5 0.5-1.5 0-1.5 0-9 -1.5-2 -1-1 -7.5 0zM82 151.5l1.5 1 9.5-0.5 1 0 1.5-1.5 0.5-1.5 0-1.5 0-8 -0.5-1 -1.5-1.5 -1-0.5 -8.5-0.5 -1 0 -2 1 -1 1.5 0 1 0 8 0.5 3zM15 129l1 0.5 1.5 0.5 6.5-0.5 1.5-0.5 3-3 1-1 0.5-1.5 0-5.5 -0.5-2.5 -1-1.5 -1.5-0.5 -9.5-0.5 -1.5 0.5 -1 1 -1.5 2.5 0 8 0.5 2.5zM62.5 127.5l2 0.5 7-0.5 0.5-1.5 -0.5-7 -0.5-1 -1-1 -7-0.5 -1 0 -1 0.5 -0.5 1 0 7 0.5 1zM-2 107.5l0 1 7.5-0.5 1.5-0.5 1-1.5 0.5-2.5 0-8 -0.5-1.5 -1.5-1.5 -1-0.5 -7.5 0zM37.5 107.5l1.5 0.5 9.5 0 1.5-0.5 1-0.5 1-2.5 0-1 0-8 -1-1.5 -1-1.5 -1.5 0 -8-0.5 -1.5 0 -1 0.5 -1.5 1.5 -0.5 1.5 -0.5 9 0.5 1.5z"/>
<path fill="#f9a119" d="M-2 190l8 0 0-6 -0.5-1.5 -1.5 0 -6 0zM38 190l12.5 0 0-7.5 -0.5-0.5 -1.5 0 -9.5 0 -0.5 0.5 -0.5 1.5zM83 190l11 0 0-6 -1-1.5 -9.5 0 -0.5 1.5zM16 172l1.5 0.5 1.5 0 8 0 1-0.5 0.5-1.5 0-6.5 -0.5-1.5 -1-1.5 -1.5-1 -1.5-0.5 -6.5 0 -1.5 1 -0.5 2 0 8zM60.5 172l1.5 0.5 8 0 1.5 0 1-0.5 0.5-3 0-6.5 -0.5-1.5 -1-1 -1.5-0.5 -5.5 0 -1.5 0.5 -1 1 -1.5 1.5 -0.5 1.5 0 6.5zM-2 149l0 1 6 0 1.5-0.5 0.5-0.5 0-9.5 -0.5-1.5 -7.5-0.5zM82.5 149l1 1 1 0.5 8.5-0.5 1-1 0-5 0-3 -0.5-1.5 -0.5-0.5 -2.5-0.5 -4.5-0.5 -3 0.5 -0.5 1zM16.5 127.5l2.5 0.5 5 0 1.5-0.5 1.5-1 1-1.5 0-1.5 0-6.5 -1-1 -1.5-0.5 -8 0 -1.5 1 0 1.5 0 8zM-2 106l6.5 0 1 0 0.5-1.5 0-8 0-1 -0.5-1 -1.5-0.5 -6 0zM40 106l8.5 0 1.5-0.5 0-2 0-7 -0.5-1 -1-0.5 -1.5-0.5 -6.5-0.5 -1.5 0.5 -0.5 1 -0.5 8 0 1 1 1.5z"/>
</g>
<path d="M0.00 188.00 v3.8M0 188.00 h-3.8M20.57 188.00 v3.8M0 167.51 h-3.8M41.14 188.00 v3.8M0 147.01 h-3.8M61.71 188.00 v3.8M0 126.52 h-3.8M82.28 188.00 v3.8M0 106.02 h-3.8M102.85 188.00 v3.8M0 85.53 h-3.8M123.42 188.00 v3.8M0 65.04 h-3.8M143.99 188.00 v3.8M0 44.54 h-3.8M164.56 188.00 v3.8M0 24.05 h-3.8M185.13 188.00 v3.8M0 3.55 h-3.8" stroke="#111" stroke-width="0.7" fill="none"/>
<g class="tl">
<text x="0.00" y="200.80" text-anchor="middle">0</text>
<text x="-6.7" y="190.10" text-anchor="end">0</text>
<text x="20.57" y="200.80" text-anchor="middle">20</text>
<text x="-6.7" y="169.61" text-anchor="end">20</text>
<text x="41.14" y="200.80" text-anchor="middle">40</text>
<text x="-6.7" y="149.11" text-anchor="end">40</text>
<text x="61.71" y="200.80" text-anchor="middle">60</text>
<text x="-6.7" y="128.62" text-anchor="end">60</text>
<text x="82.28" y="200.80" text-anchor="middle">80</text>
<text x="-6.7" y="108.12" text-anchor="end">80</text>
<text x="102.85" y="200.80" text-anchor="middle">100</text>
<text x="-6.7" y="87.63" text-anchor="end">100</text>
<text x="123.42" y="200.80" text-anchor="middle">120</text>
<text x="-6.7" y="67.14" text-anchor="end">120</text>
<text x="143.99" y="200.80" text-anchor="middle">140</text>
<text x="-6.7" y="46.64" text-anchor="end">140</text>
<text x="164.56" y="200.80" text-anchor="middle">160</text>
<text x="-6.7" y="26.15" text-anchor="end">160</text>
<text x="185.13" y="200.80" text-anchor="middle">180</text>
<text x="-6.7" y="5.65" text-anchor="end">180</text>
</g>
<text class="ti" x="93.85" y="-4.8" text-anchor="middle">B-1200ppm-100%</text>
<text class="al" x="94.55" y="213.70" text-anchor="middle">Distance (cm)</text>
<text class="al" transform="translate(-22.6 95.00) rotate(-90)" text-anchor="middle">Distance (cm)</text>
<rect x="141.05" y="4.40" width="43.10" height="59.90" fill="#fff"/>
<rect x="144.65" y="8.80" width="11.8" height="5.40" fill="#342078"/>
<text class="lg" x="159.75" y="13.30">0</text>
<rect x="144.65" y="15.37" width="11.8" height="5.40" fill="#141a5e"/>
<text class="lg" x="159.75" y="19.87">2e+12</text>
<rect x="144.65" y="21.94" width="11.8" height="5.40" fill="#2042aa"/>
<text class="lg" x="159.75" y="26.44">4e+12</text>
<rect x="144.65" y="28.51" width="11.8" height="5.40" fill="#0c5292"/>
<text class="lg" x="159.75" y="33.01">6e+12</text>
<rect x="144.65" y="35.08" width="11.8" height="5.40" fill="#2cb04a"/>
<text class="lg" x="159.75" y="39.58">8e+12</text>
<rect x="144.65" y="41.65" width="11.8" height="5.40" fill="#ffee00"/>
<text class="lg" x="159.75" y="46.15">1e+13</text>
<rect x="144.65" y="48.22" width="11.8" height="5.40" fill="#f8921e"/>
<text class="lg" x="159.75" y="52.72">1.2e+13</text>
<rect x="144.65" y="54.79" width="11.8" height="5.40" fill="#ee2024"/>
<text class="lg" x="159.75" y="59.29">1.4e+13</text>
</g>
</svg>
<div class="cap" style="left:113.1px;top:230.5px">(a) Fully withdrawn (R = 0%).</div>
<div class="cap" style="left:347.0px;top:230.5px">(b) One-quarter (R = 25%).</div>
<div class="cap" style="left:581.2px;top:230.5px">(c) One-half (R = 50%).</div>
<div class="cap" style="left:230.0px;top:498.1px">(d) Three-quarters (R = 75%).</div>
<div class="cap" style="left:464.0px;top:498.1px">(e) Full insertion (R = 100%).</div>
</body></html>
